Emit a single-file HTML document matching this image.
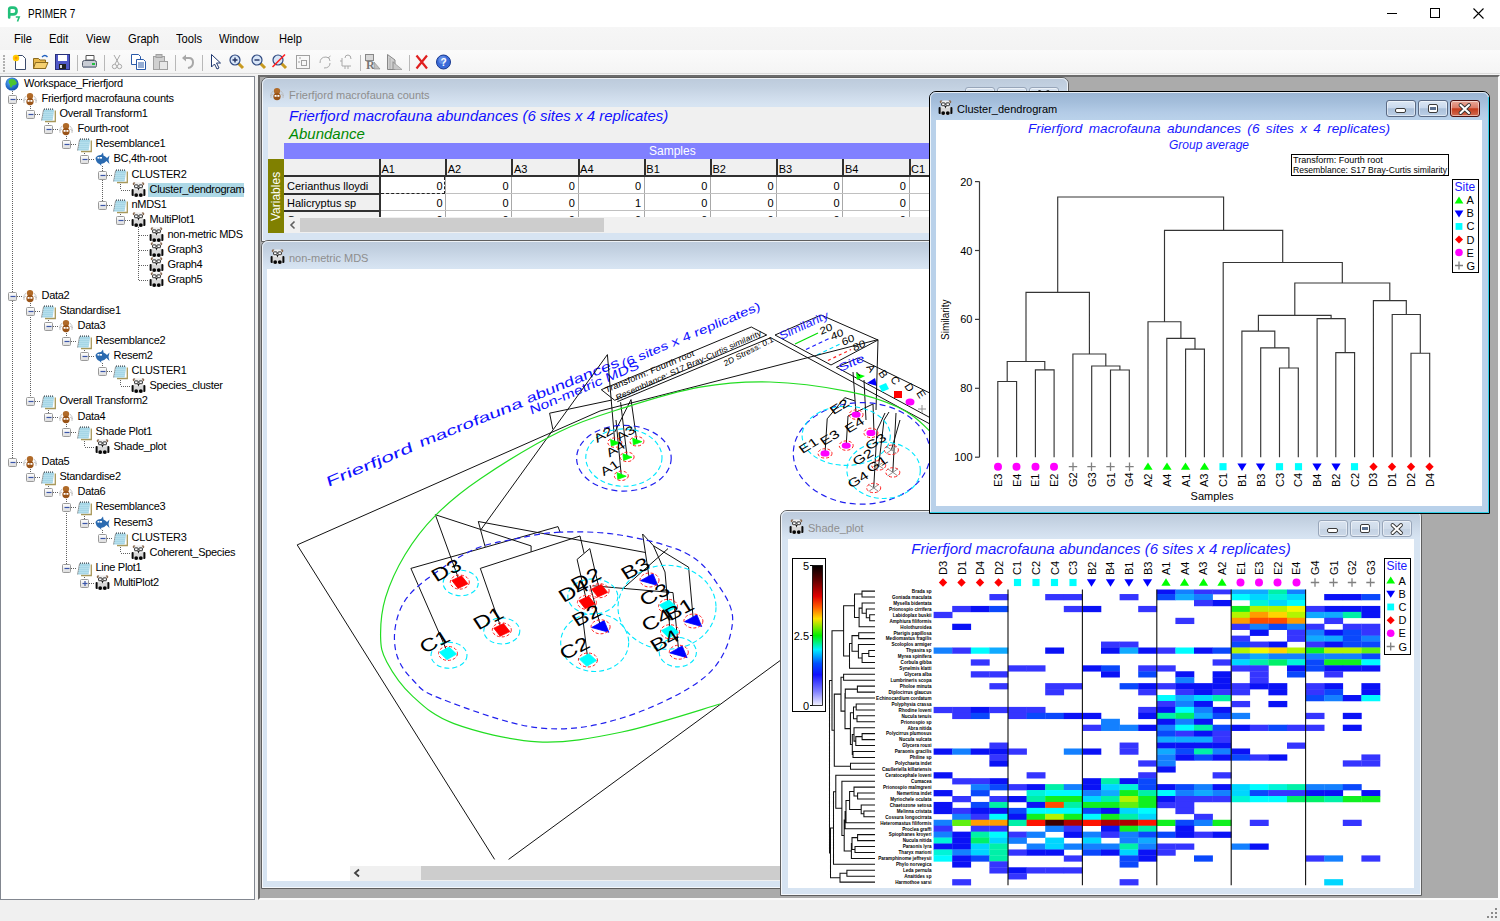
<!DOCTYPE html><html><head><meta charset="utf-8"><title>PRIMER 7</title><style>

*{box-sizing:border-box;margin:0;padding:0}
body{width:1500px;height:921px;overflow:hidden;background:#f0f0f0;font-family:"Liberation Sans",Arial,sans-serif;position:relative}
.a{position:absolute}
.ui{font-family:"Liberation Sans",Arial,sans-serif;font-size:12px;color:#000;white-space:nowrap}
.tr{font-family:"Liberation Sans",Arial,sans-serif;font-size:11px;letter-spacing:-0.3px;color:#000;white-space:nowrap;position:absolute;line-height:13px}
svg{position:absolute;overflow:visible}
.wt{font-family:"Liberation Sans",Arial,sans-serif;font-size:12px;white-space:nowrap;position:absolute}

</style></head><body>
<div class="a" style="left:0;top:0;width:1500px;height:27px;background:#fff"></div>
<svg class="a" style="left:7px;top:6px" width="14" height="16" viewBox="0 0 14 16"><path d="M2.2 11.5 V3.2 Q2.2 1.6 4 1.6 H6.2 Q9.6 1.6 9.6 5 Q9.6 8.4 6.2 8.4 H3" fill="none" stroke="#22c07a" stroke-width="2.6" stroke-linecap="round"/><path d="M8.8 11 H12.2 L10.5 15.5" fill="none" stroke="#22c07a" stroke-width="1.6"/></svg>
<div class="a ui" style="left:27.5px;top:7px;font-size:12.5px;line-height:15px;transform:scaleX(0.8);transform-origin:0 0">PRIMER 7</div>
<div class="a" style="left:1387px;top:13px;width:10px;height:1px;background:#000"></div>
<div class="a" style="left:1430px;top:8px;width:10px;height:10px;border:1px solid #000"></div>
<svg class="a" style="left:1473px;top:8px" width="11" height="11"><path d="M0.5 0.5L10.5 10.5M10.5 0.5L0.5 10.5" stroke="#000" stroke-width="1.1"/></svg>
<div class="a" style="left:0;top:27px;width:1500px;height:23px;background:linear-gradient(#f6f6f6,#f3f3f3)"></div>
<div class="a ui" style="left:14px;top:32px;line-height:15px;transform:scaleX(0.93);transform-origin:0 0">File</div>
<div class="a ui" style="left:49px;top:32px;line-height:15px;transform:scaleX(0.93);transform-origin:0 0">Edit</div>
<div class="a ui" style="left:86px;top:32px;line-height:15px;transform:scaleX(0.93);transform-origin:0 0">View</div>
<div class="a ui" style="left:128px;top:32px;line-height:15px;transform:scaleX(0.93);transform-origin:0 0">Graph</div>
<div class="a ui" style="left:176px;top:32px;line-height:15px;transform:scaleX(0.93);transform-origin:0 0">Tools</div>
<div class="a ui" style="left:219px;top:32px;line-height:15px;transform:scaleX(0.93);transform-origin:0 0">Window</div>
<div class="a ui" style="left:279px;top:32px;line-height:15px;transform:scaleX(0.93);transform-origin:0 0">Help</div>
<div class="a" style="left:0;top:50px;width:1500px;height:25px;background:linear-gradient(#fbfbfb,#f4f4f4)"></div>
<div class="a" style="left:0;top:73px;width:1500px;height:1px;background:#dcdcdc"></div>
<div class="a" style="left:3px;top:55px;width:2px;height:2px;background:#b0b0b0"></div>
<div class="a" style="left:3px;top:58px;width:2px;height:2px;background:#b0b0b0"></div>
<div class="a" style="left:3px;top:61px;width:2px;height:2px;background:#b0b0b0"></div>
<div class="a" style="left:3px;top:64px;width:2px;height:2px;background:#b0b0b0"></div>
<div class="a" style="left:3px;top:67px;width:2px;height:2px;background:#b0b0b0"></div>
<div class="a" style="left:3px;top:70px;width:2px;height:2px;background:#b0b0b0"></div>
<div class="a" style="left:77px;top:55px;width:1px;height:16px;background:#b8b8b8"></div>
<div class="a" style="left:104px;top:55px;width:1px;height:16px;background:#b8b8b8"></div>
<div class="a" style="left:175px;top:55px;width:1px;height:16px;background:#b8b8b8"></div>
<div class="a" style="left:202px;top:55px;width:1px;height:16px;background:#b8b8b8"></div>
<div class="a" style="left:360px;top:55px;width:1px;height:16px;background:#b8b8b8"></div>
<div class="a" style="left:409px;top:55px;width:1px;height:16px;background:#b8b8b8"></div>
<svg class="a" style="left:0;top:0" width="470" height="75"><g transform="translate(12,54)"><path d="M3.5 1.5H10.5L13.5 4.5V15.5H3.5Z" fill="#fff" stroke="#3a4a6a"/><circle cx="4" cy="4" r="3.2" fill="#ffcc00"/><circle cx="4" cy="4" r="1.5" fill="#ff9900"/></g><g transform="translate(33,54)"><path d="M0.5 4.5H5.5L7 6H12.5V14.5H0.5Z" fill="#e8b84a" stroke="#8a6a20"/><path d="M2.5 8.5H15L12.5 14.5H0.5Z" fill="#f5d070" stroke="#8a6a20"/><path d="M9 3Q12 0 14.5 3" fill="none" stroke="#2060c0" stroke-width="1.3"/></g><g transform="translate(55,54)"><rect x="0.5" y="0.5" width="14" height="15" fill="#5058c8" stroke="#28307a"/><rect x="3" y="1" width="9" height="6" fill="#fff"/><rect x="4" y="10" width="7" height="5" fill="#222"/><rect x="5" y="11" width="2" height="3" fill="#ddd"/></g><g transform="translate(82,54)"><path d="M4 1.5H12V6H4Z" fill="#fff" stroke="#555"/><rect x="0.5" y="6.5" width="14" height="7" rx="2" fill="#c8ccd4" stroke="#505868"/><rect x="10" y="9" width="3" height="2" fill="#20c040"/><rect x="2" y="12" width="11" height="2" fill="#8890a0"/></g><g transform="translate(112,54)" stroke="#a8a8a8" fill="none"><path d="M2 1L7 10M8 1L3 10"/><circle cx="2.5" cy="12.5" r="2.2"/><circle cx="7.5" cy="12.5" r="2.2"/></g><g transform="translate(131,54)"><path d="M0.5 0.5H7.5L9.5 2.5V10.5H0.5Z" fill="#fff" stroke="#2a5aa8"/><path d="M5.5 5.5H12.5L14.5 7.5V15.5H5.5Z" fill="#fff" stroke="#2a5aa8"/><path d="M7 9H13M7 11H13M7 13H13" stroke="#2a5aa8"/></g><g transform="translate(153,54)"><rect x="0.5" y="2.5" width="11" height="13" fill="#d0d0d0" stroke="#a0a0a0"/><rect x="3" y="0.5" width="6" height="3" fill="#c0c0c0" stroke="#a0a0a0"/><rect x="6.5" y="7.5" width="8" height="8" fill="#e8e8e8" stroke="#a0a0a0"/></g><g transform="translate(181,54)"><path d="M3 4H8Q12 4 12 8.5Q12 13 7 14" fill="none" stroke="#a8a8a8" stroke-width="2"/><path d="M1 4L5 0.5V7.5Z" fill="#a8a8a8"/></g><g transform="translate(210,54)"><path d="M1.5 0.5V13L4.5 10L7 15L9 14L6.5 9H10.5Z" fill="#fff" stroke="#203870"/></g><g transform="translate(229,54)"><path d="M9 9L14 14" stroke="#c89a20" stroke-width="3"/><circle cx="6" cy="6" r="5" fill="#d8e6f8" stroke="#304a80" stroke-width="1.2"/><path d="M3.5 6H8.5M6 3.5V8.5" stroke="#203060" stroke-width="1.4"/></g><g transform="translate(251,54)"><path d="M9 9L14 14" stroke="#c89a20" stroke-width="3"/><circle cx="6" cy="6" r="5" fill="#d8e6f8" stroke="#304a80" stroke-width="1.2"/><path d="M3.5 6H8.5" stroke="#203060" stroke-width="1.4"/></g><g transform="translate(272,54)"><path d="M9 9L14 14" stroke="#c89a20" stroke-width="3"/><circle cx="6" cy="6" r="5" fill="#d8e6f8" stroke="#304a80" stroke-width="1.2"/><path d="M0.5 13L13 0.5" stroke="#ff2020" stroke-width="1.6"/></g><g transform="translate(296,55)" stroke="#a0a0a0" fill="none"><rect x="0.5" y="0.5" width="13" height="13"/><rect x="5.5" y="5.5" width="5" height="5"/><path d="M3 3H5M3 6V8"/></g><g transform="translate(318,55)" stroke="#a8a8a8" fill="none"><path d="M2 8Q2 2 8 2Q12 2 12 6M12 8Q12 13 6 13"/><path d="M10 3L12.5 1"/></g><g transform="translate(340,55)" stroke="#a8a8a8" fill="none"><path d="M2 3V11H11"/><path d="M5 11V14M8 11V14M2 6H0M5 3Q5 0 8 0Q11 0 11 4"/></g><g transform="translate(365,54)"><rect x="0.5" y="0.5" width="8" height="6" fill="#d8d8d8" stroke="#888"/><text x="1" y="15" font-family="Liberation Serif" font-size="12" font-weight="bold" fill="#777">R</text><path d="M9 8L15 15H9Z" fill="#c0c0c0" stroke="#888" stroke-width="0.6"/></g><g transform="translate(387,54)"><path d="M0.5 0.5L8 6V15.5H0.5Z" fill="#d0d0d0" stroke="#888"/><path d="M6 8L15 15.5H6Z" fill="#c8c8c8" stroke="#888" stroke-width="0.6"/><path d="M3 4V15M6 7V15" stroke="#999" stroke-width="0.6"/></g><g transform="translate(415,54)"><path d="M1.5 1.5L12 14.5M12 1.5L1.5 14.5" stroke="#e02020" stroke-width="2.2"/></g><g transform="translate(436,54)"><circle cx="7.5" cy="8" r="7" fill="#3a6ad8" stroke="#1a3a90"/><circle cx="6.5" cy="6" r="4" fill="#7aa2ee" opacity="0.6"/><text x="7.5" y="12" text-anchor="middle" font-family="Liberation Sans" font-weight="bold" font-size="10" fill="#fff">?</text></g></svg>
<div class="a" style="left:0;top:76px;width:255px;height:824px;background:#fff;border:1px solid #828790"></div>
<svg class="a" style="left:0;top:0" width="256" height="900"><defs><linearGradient id="exg" x1="0" y1="0" x2="0" y2="1"><stop offset="0" stop-color="#fff"/><stop offset="1" stop-color="#dcdcdc"/></linearGradient></defs><path d="M12.5 91V462" stroke="#606060" stroke-width="1" stroke-dasharray="1 1"/><path d="M30.5 106V114" stroke="#606060" stroke-width="1" stroke-dasharray="1 1"/><path d="M48.5 121V129" stroke="#606060" stroke-width="1" stroke-dasharray="1 1"/><path d="M66.5 136V144" stroke="#606060" stroke-width="1" stroke-dasharray="1 1"/><path d="M84.5 151V159" stroke="#606060" stroke-width="1" stroke-dasharray="1 1"/><path d="M102.5 166V205" stroke="#606060" stroke-width="1" stroke-dasharray="1 1"/><path d="M120.5 182V190" stroke="#606060" stroke-width="1" stroke-dasharray="1 1"/><path d="M120.5 212V220" stroke="#606060" stroke-width="1" stroke-dasharray="1 1"/><path d="M138.5 227V280" stroke="#606060" stroke-width="1" stroke-dasharray="1 1"/><path d="M30.5 303V401" stroke="#606060" stroke-width="1" stroke-dasharray="1 1"/><path d="M48.5 318V326" stroke="#606060" stroke-width="1" stroke-dasharray="1 1"/><path d="M66.5 333V341" stroke="#606060" stroke-width="1" stroke-dasharray="1 1"/><path d="M84.5 348V356" stroke="#606060" stroke-width="1" stroke-dasharray="1 1"/><path d="M102.5 363V371" stroke="#606060" stroke-width="1" stroke-dasharray="1 1"/><path d="M120.5 378V386" stroke="#606060" stroke-width="1" stroke-dasharray="1 1"/><path d="M48.5 408V417" stroke="#606060" stroke-width="1" stroke-dasharray="1 1"/><path d="M66.5 424V432" stroke="#606060" stroke-width="1" stroke-dasharray="1 1"/><path d="M84.5 439V447" stroke="#606060" stroke-width="1" stroke-dasharray="1 1"/><path d="M30.5 469V477" stroke="#606060" stroke-width="1" stroke-dasharray="1 1"/><path d="M48.5 484V492" stroke="#606060" stroke-width="1" stroke-dasharray="1 1"/><path d="M66.5 499V568" stroke="#606060" stroke-width="1" stroke-dasharray="1 1"/><path d="M84.5 514V523" stroke="#606060" stroke-width="1" stroke-dasharray="1 1"/><path d="M102.5 530V538" stroke="#606060" stroke-width="1" stroke-dasharray="1 1"/><path d="M120.5 545V553" stroke="#606060" stroke-width="1" stroke-dasharray="1 1"/><path d="M84.5 575V583" stroke="#606060" stroke-width="1" stroke-dasharray="1 1"/><g transform="translate(5,77)"><defs><radialGradient id="gg" cx="0.4" cy="0.35" r="0.7"><stop offset="0" stop-color="#5ab0ff"/><stop offset="1" stop-color="#0a4aa8"/></radialGradient></defs><circle cx="7" cy="7" r="6.6" fill="url(#gg)"/><path d="M4 3Q7 1 10 3L12 6Q10 9 8 8L6 11Q4 9 5 7Q3 6 4 3Z" fill="#4cc430"/></g><path d="M17 99.5H23" stroke="#606060" stroke-width="1" stroke-dasharray="1 1"/><rect x="8.5" y="95.5" width="8" height="8" rx="1" fill="url(#exg)" stroke="#9a9a9a"/><path d="M10.5 99.5H15.5" stroke="#3a55a8" stroke-width="1.2"/><g transform="translate(23,92)"><path d="M3 4Q0 6 1 11M11 4Q14 6 13 11M3 7L0 9M11 7L14 9" stroke="#b8b8b8" stroke-width="0.8" fill="none"/><ellipse cx="7" cy="4" rx="3.2" ry="3" fill="#b06a28"/><ellipse cx="7" cy="9.5" rx="3.6" ry="3.8" fill="#9a5418"/><rect x="4.6" y="8" width="2" height="1.8" fill="#fff"/><rect x="7.4" y="8" width="2" height="1.8" fill="#fff"/></g><path d="M35 114.5H41" stroke="#606060" stroke-width="1" stroke-dasharray="1 1"/><rect x="26.5" y="110.5" width="8" height="8" rx="1" fill="url(#exg)" stroke="#9a9a9a"/><path d="M28.5 114.5H33.5" stroke="#3a55a8" stroke-width="1.2"/><g transform="translate(41,107)"><path d="M4 14.5H14.3V3.5" fill="none" stroke="#a8985a" stroke-width="1.3"/><path d="M2.6 2.5H13.2L11.6 13.5H0.6Z" fill="#a6d6e6"/><path d="M2.6 2.5L0.6 13.5" stroke="#8a8a8a" stroke-width="0.9"/><path d="M1.8 5.5H12.4M1.5 7.5H12.1M1.2 9.5H11.8M0.9 11.5H11.6" stroke="#c4e8f4" stroke-width="0.5"/><path d="M3 2.2H13" stroke="#30404a" stroke-width="1.3" stroke-dasharray="1 1"/></g><path d="M53 129.5H59" stroke="#606060" stroke-width="1" stroke-dasharray="1 1"/><rect x="44.5" y="125.5" width="8" height="8" rx="1" fill="url(#exg)" stroke="#9a9a9a"/><path d="M46.5 129.5H51.5" stroke="#3a55a8" stroke-width="1.2"/><g transform="translate(59,122)"><path d="M3 4Q0 6 1 11M11 4Q14 6 13 11M3 7L0 9M11 7L14 9" stroke="#b8b8b8" stroke-width="0.8" fill="none"/><ellipse cx="7" cy="4" rx="3.2" ry="3" fill="#b06a28"/><ellipse cx="7" cy="9.5" rx="3.6" ry="3.8" fill="#9a5418"/><rect x="4.6" y="8" width="2" height="1.8" fill="#fff"/><rect x="7.4" y="8" width="2" height="1.8" fill="#fff"/></g><path d="M71 144.5H77" stroke="#606060" stroke-width="1" stroke-dasharray="1 1"/><rect x="62.5" y="140.5" width="8" height="8" rx="1" fill="url(#exg)" stroke="#9a9a9a"/><path d="M64.5 144.5H69.5" stroke="#3a55a8" stroke-width="1.2"/><g transform="translate(77,137)"><path d="M4 14.5H14.3V3.5" fill="none" stroke="#a8985a" stroke-width="1.3"/><path d="M2.6 2.5H13.2L11.6 13.5H0.6Z" fill="#a6d6e6"/><path d="M2.6 2.5L0.6 13.5" stroke="#8a8a8a" stroke-width="0.9"/><path d="M1.8 5.5H12.4M1.5 7.5H12.1M1.2 9.5H11.8M0.9 11.5H11.6" stroke="#c4e8f4" stroke-width="0.5"/><path d="M3 2.2H13" stroke="#30404a" stroke-width="1.3" stroke-dasharray="1 1"/></g><path d="M89 159.5H95" stroke="#606060" stroke-width="1" stroke-dasharray="1 1"/><rect x="80.5" y="155.5" width="8" height="8" rx="1" fill="url(#exg)" stroke="#9a9a9a"/><path d="M82.5 159.5H87.5" stroke="#3a55a8" stroke-width="1.2"/><g transform="translate(95,152)"><path d="M0.5 6Q2 3 6 3L8 0.5L8.5 3.5Q11 4.5 12 6L14.5 3.5L13.5 8L14.5 12L11.5 9Q9 12 6 12L6.5 14L4.5 12Q1 11 0.5 6Z" fill="#2a6ab0"/><rect x="2.5" y="5" width="2" height="1.6" fill="#fff"/><rect x="5" y="5" width="2" height="1.6" fill="#fff"/></g><path d="M107 175.5H113" stroke="#606060" stroke-width="1" stroke-dasharray="1 1"/><rect x="98.5" y="171.5" width="8" height="8" rx="1" fill="url(#exg)" stroke="#9a9a9a"/><path d="M100.5 175.5H105.5" stroke="#3a55a8" stroke-width="1.2"/><g transform="translate(113,168)"><path d="M4 14.5H14.3V3.5" fill="none" stroke="#a8985a" stroke-width="1.3"/><path d="M2.6 2.5H13.2L11.6 13.5H0.6Z" fill="#a6d6e6"/><path d="M2.6 2.5L0.6 13.5" stroke="#8a8a8a" stroke-width="0.9"/><path d="M1.8 5.5H12.4M1.5 7.5H12.1M1.2 9.5H11.8M0.9 11.5H11.6" stroke="#c4e8f4" stroke-width="0.5"/><path d="M3 2.2H13" stroke="#30404a" stroke-width="1.3" stroke-dasharray="1 1"/></g><path d="M121 190.5H131" stroke="#606060" stroke-width="1" stroke-dasharray="1 1"/><g transform="translate(131,181.5)"><rect x="0.6" y="7.5" width="2.4" height="7" rx="1.1" fill="#0a0a0a"/><rect x="12" y="7.5" width="2.4" height="7" rx="1.1" fill="#0a0a0a"/><rect x="2.6" y="6" width="9.8" height="9.5" rx="2" fill="#d8d8d8"/><circle cx="5.2" cy="13.6" r="1.9" fill="#050505"/><circle cx="9.8" cy="13.6" r="1.9" fill="#050505"/><circle cx="3.2" cy="2.3" r="1.5" fill="#8a6a50"/><circle cx="11.8" cy="2.3" r="1.5" fill="#8a6a50"/><rect x="3.2" y="1" width="8.6" height="7.5" rx="2.5" fill="#eeeeee"/><rect x="3.6" y="3.4" width="3.4" height="2.8" rx="0.6" fill="#fff" stroke="#151515" stroke-width="0.9"/><rect x="8" y="3.4" width="3.4" height="2.8" rx="0.6" fill="#fff" stroke="#151515" stroke-width="0.9"/><path d="M6.4 6.6H8.6L7.5 9Z" fill="#111"/></g><path d="M107 205.5H113" stroke="#606060" stroke-width="1" stroke-dasharray="1 1"/><rect x="98.5" y="201.5" width="8" height="8" rx="1" fill="url(#exg)" stroke="#9a9a9a"/><path d="M100.5 205.5H105.5" stroke="#3a55a8" stroke-width="1.2"/><g transform="translate(113,198)"><path d="M4 14.5H14.3V3.5" fill="none" stroke="#a8985a" stroke-width="1.3"/><path d="M2.6 2.5H13.2L11.6 13.5H0.6Z" fill="#a6d6e6"/><path d="M2.6 2.5L0.6 13.5" stroke="#8a8a8a" stroke-width="0.9"/><path d="M1.8 5.5H12.4M1.5 7.5H12.1M1.2 9.5H11.8M0.9 11.5H11.6" stroke="#c4e8f4" stroke-width="0.5"/><path d="M3 2.2H13" stroke="#30404a" stroke-width="1.3" stroke-dasharray="1 1"/></g><path d="M125 220.5H131" stroke="#606060" stroke-width="1" stroke-dasharray="1 1"/><rect x="116.5" y="216.5" width="8" height="8" rx="1" fill="url(#exg)" stroke="#9a9a9a"/><path d="M118.5 220.5H123.5" stroke="#3a55a8" stroke-width="1.2"/><g transform="translate(131,211.5)"><rect x="0.6" y="7.5" width="2.4" height="7" rx="1.1" fill="#0a0a0a"/><rect x="12" y="7.5" width="2.4" height="7" rx="1.1" fill="#0a0a0a"/><rect x="2.6" y="6" width="9.8" height="9.5" rx="2" fill="#d8d8d8"/><circle cx="5.2" cy="13.6" r="1.9" fill="#050505"/><circle cx="9.8" cy="13.6" r="1.9" fill="#050505"/><circle cx="3.2" cy="2.3" r="1.5" fill="#8a6a50"/><circle cx="11.8" cy="2.3" r="1.5" fill="#8a6a50"/><rect x="3.2" y="1" width="8.6" height="7.5" rx="2.5" fill="#eeeeee"/><rect x="3.6" y="3.4" width="3.4" height="2.8" rx="0.6" fill="#fff" stroke="#151515" stroke-width="0.9"/><rect x="8" y="3.4" width="3.4" height="2.8" rx="0.6" fill="#fff" stroke="#151515" stroke-width="0.9"/><path d="M6.4 6.6H8.6L7.5 9Z" fill="#111"/></g><path d="M139 235.5H149" stroke="#606060" stroke-width="1" stroke-dasharray="1 1"/><g transform="translate(149,226.5)"><rect x="0.6" y="7.5" width="2.4" height="7" rx="1.1" fill="#0a0a0a"/><rect x="12" y="7.5" width="2.4" height="7" rx="1.1" fill="#0a0a0a"/><rect x="2.6" y="6" width="9.8" height="9.5" rx="2" fill="#d8d8d8"/><circle cx="5.2" cy="13.6" r="1.9" fill="#050505"/><circle cx="9.8" cy="13.6" r="1.9" fill="#050505"/><circle cx="3.2" cy="2.3" r="1.5" fill="#8a6a50"/><circle cx="11.8" cy="2.3" r="1.5" fill="#8a6a50"/><rect x="3.2" y="1" width="8.6" height="7.5" rx="2.5" fill="#eeeeee"/><rect x="3.6" y="3.4" width="3.4" height="2.8" rx="0.6" fill="#fff" stroke="#151515" stroke-width="0.9"/><rect x="8" y="3.4" width="3.4" height="2.8" rx="0.6" fill="#fff" stroke="#151515" stroke-width="0.9"/><path d="M6.4 6.6H8.6L7.5 9Z" fill="#111"/></g><path d="M139 250.5H149" stroke="#606060" stroke-width="1" stroke-dasharray="1 1"/><g transform="translate(149,241.5)"><rect x="0.6" y="7.5" width="2.4" height="7" rx="1.1" fill="#0a0a0a"/><rect x="12" y="7.5" width="2.4" height="7" rx="1.1" fill="#0a0a0a"/><rect x="2.6" y="6" width="9.8" height="9.5" rx="2" fill="#d8d8d8"/><circle cx="5.2" cy="13.6" r="1.9" fill="#050505"/><circle cx="9.8" cy="13.6" r="1.9" fill="#050505"/><circle cx="3.2" cy="2.3" r="1.5" fill="#8a6a50"/><circle cx="11.8" cy="2.3" r="1.5" fill="#8a6a50"/><rect x="3.2" y="1" width="8.6" height="7.5" rx="2.5" fill="#eeeeee"/><rect x="3.6" y="3.4" width="3.4" height="2.8" rx="0.6" fill="#fff" stroke="#151515" stroke-width="0.9"/><rect x="8" y="3.4" width="3.4" height="2.8" rx="0.6" fill="#fff" stroke="#151515" stroke-width="0.9"/><path d="M6.4 6.6H8.6L7.5 9Z" fill="#111"/></g><path d="M139 265.5H149" stroke="#606060" stroke-width="1" stroke-dasharray="1 1"/><g transform="translate(149,256.5)"><rect x="0.6" y="7.5" width="2.4" height="7" rx="1.1" fill="#0a0a0a"/><rect x="12" y="7.5" width="2.4" height="7" rx="1.1" fill="#0a0a0a"/><rect x="2.6" y="6" width="9.8" height="9.5" rx="2" fill="#d8d8d8"/><circle cx="5.2" cy="13.6" r="1.9" fill="#050505"/><circle cx="9.8" cy="13.6" r="1.9" fill="#050505"/><circle cx="3.2" cy="2.3" r="1.5" fill="#8a6a50"/><circle cx="11.8" cy="2.3" r="1.5" fill="#8a6a50"/><rect x="3.2" y="1" width="8.6" height="7.5" rx="2.5" fill="#eeeeee"/><rect x="3.6" y="3.4" width="3.4" height="2.8" rx="0.6" fill="#fff" stroke="#151515" stroke-width="0.9"/><rect x="8" y="3.4" width="3.4" height="2.8" rx="0.6" fill="#fff" stroke="#151515" stroke-width="0.9"/><path d="M6.4 6.6H8.6L7.5 9Z" fill="#111"/></g><path d="M139 280.5H149" stroke="#606060" stroke-width="1" stroke-dasharray="1 1"/><g transform="translate(149,271.5)"><rect x="0.6" y="7.5" width="2.4" height="7" rx="1.1" fill="#0a0a0a"/><rect x="12" y="7.5" width="2.4" height="7" rx="1.1" fill="#0a0a0a"/><rect x="2.6" y="6" width="9.8" height="9.5" rx="2" fill="#d8d8d8"/><circle cx="5.2" cy="13.6" r="1.9" fill="#050505"/><circle cx="9.8" cy="13.6" r="1.9" fill="#050505"/><circle cx="3.2" cy="2.3" r="1.5" fill="#8a6a50"/><circle cx="11.8" cy="2.3" r="1.5" fill="#8a6a50"/><rect x="3.2" y="1" width="8.6" height="7.5" rx="2.5" fill="#eeeeee"/><rect x="3.6" y="3.4" width="3.4" height="2.8" rx="0.6" fill="#fff" stroke="#151515" stroke-width="0.9"/><rect x="8" y="3.4" width="3.4" height="2.8" rx="0.6" fill="#fff" stroke="#151515" stroke-width="0.9"/><path d="M6.4 6.6H8.6L7.5 9Z" fill="#111"/></g><path d="M17 296.5H23" stroke="#606060" stroke-width="1" stroke-dasharray="1 1"/><rect x="8.5" y="292.5" width="8" height="8" rx="1" fill="url(#exg)" stroke="#9a9a9a"/><path d="M10.5 296.5H15.5" stroke="#3a55a8" stroke-width="1.2"/><g transform="translate(23,289)"><path d="M3 4Q0 6 1 11M11 4Q14 6 13 11M3 7L0 9M11 7L14 9" stroke="#b8b8b8" stroke-width="0.8" fill="none"/><ellipse cx="7" cy="4" rx="3.2" ry="3" fill="#b06a28"/><ellipse cx="7" cy="9.5" rx="3.6" ry="3.8" fill="#9a5418"/><rect x="4.6" y="8" width="2" height="1.8" fill="#fff"/><rect x="7.4" y="8" width="2" height="1.8" fill="#fff"/></g><path d="M35 311.5H41" stroke="#606060" stroke-width="1" stroke-dasharray="1 1"/><rect x="26.5" y="307.5" width="8" height="8" rx="1" fill="url(#exg)" stroke="#9a9a9a"/><path d="M28.5 311.5H33.5" stroke="#3a55a8" stroke-width="1.2"/><g transform="translate(41,304)"><path d="M4 14.5H14.3V3.5" fill="none" stroke="#a8985a" stroke-width="1.3"/><path d="M2.6 2.5H13.2L11.6 13.5H0.6Z" fill="#a6d6e6"/><path d="M2.6 2.5L0.6 13.5" stroke="#8a8a8a" stroke-width="0.9"/><path d="M1.8 5.5H12.4M1.5 7.5H12.1M1.2 9.5H11.8M0.9 11.5H11.6" stroke="#c4e8f4" stroke-width="0.5"/><path d="M3 2.2H13" stroke="#30404a" stroke-width="1.3" stroke-dasharray="1 1"/></g><path d="M53 326.5H59" stroke="#606060" stroke-width="1" stroke-dasharray="1 1"/><rect x="44.5" y="322.5" width="8" height="8" rx="1" fill="url(#exg)" stroke="#9a9a9a"/><path d="M46.5 326.5H51.5" stroke="#3a55a8" stroke-width="1.2"/><g transform="translate(59,319)"><path d="M3 4Q0 6 1 11M11 4Q14 6 13 11M3 7L0 9M11 7L14 9" stroke="#b8b8b8" stroke-width="0.8" fill="none"/><ellipse cx="7" cy="4" rx="3.2" ry="3" fill="#b06a28"/><ellipse cx="7" cy="9.5" rx="3.6" ry="3.8" fill="#9a5418"/><rect x="4.6" y="8" width="2" height="1.8" fill="#fff"/><rect x="7.4" y="8" width="2" height="1.8" fill="#fff"/></g><path d="M71 341.5H77" stroke="#606060" stroke-width="1" stroke-dasharray="1 1"/><rect x="62.5" y="337.5" width="8" height="8" rx="1" fill="url(#exg)" stroke="#9a9a9a"/><path d="M64.5 341.5H69.5" stroke="#3a55a8" stroke-width="1.2"/><g transform="translate(77,334)"><path d="M4 14.5H14.3V3.5" fill="none" stroke="#a8985a" stroke-width="1.3"/><path d="M2.6 2.5H13.2L11.6 13.5H0.6Z" fill="#a6d6e6"/><path d="M2.6 2.5L0.6 13.5" stroke="#8a8a8a" stroke-width="0.9"/><path d="M1.8 5.5H12.4M1.5 7.5H12.1M1.2 9.5H11.8M0.9 11.5H11.6" stroke="#c4e8f4" stroke-width="0.5"/><path d="M3 2.2H13" stroke="#30404a" stroke-width="1.3" stroke-dasharray="1 1"/></g><path d="M89 356.5H95" stroke="#606060" stroke-width="1" stroke-dasharray="1 1"/><rect x="80.5" y="352.5" width="8" height="8" rx="1" fill="url(#exg)" stroke="#9a9a9a"/><path d="M82.5 356.5H87.5" stroke="#3a55a8" stroke-width="1.2"/><g transform="translate(95,349)"><path d="M0.5 6Q2 3 6 3L8 0.5L8.5 3.5Q11 4.5 12 6L14.5 3.5L13.5 8L14.5 12L11.5 9Q9 12 6 12L6.5 14L4.5 12Q1 11 0.5 6Z" fill="#2a6ab0"/><rect x="2.5" y="5" width="2" height="1.6" fill="#fff"/><rect x="5" y="5" width="2" height="1.6" fill="#fff"/></g><path d="M107 371.5H113" stroke="#606060" stroke-width="1" stroke-dasharray="1 1"/><rect x="98.5" y="367.5" width="8" height="8" rx="1" fill="url(#exg)" stroke="#9a9a9a"/><path d="M100.5 371.5H105.5" stroke="#3a55a8" stroke-width="1.2"/><g transform="translate(113,364)"><path d="M4 14.5H14.3V3.5" fill="none" stroke="#a8985a" stroke-width="1.3"/><path d="M2.6 2.5H13.2L11.6 13.5H0.6Z" fill="#a6d6e6"/><path d="M2.6 2.5L0.6 13.5" stroke="#8a8a8a" stroke-width="0.9"/><path d="M1.8 5.5H12.4M1.5 7.5H12.1M1.2 9.5H11.8M0.9 11.5H11.6" stroke="#c4e8f4" stroke-width="0.5"/><path d="M3 2.2H13" stroke="#30404a" stroke-width="1.3" stroke-dasharray="1 1"/></g><path d="M121 386.5H131" stroke="#606060" stroke-width="1" stroke-dasharray="1 1"/><g transform="translate(131,377.5)"><rect x="0.6" y="7.5" width="2.4" height="7" rx="1.1" fill="#0a0a0a"/><rect x="12" y="7.5" width="2.4" height="7" rx="1.1" fill="#0a0a0a"/><rect x="2.6" y="6" width="9.8" height="9.5" rx="2" fill="#d8d8d8"/><circle cx="5.2" cy="13.6" r="1.9" fill="#050505"/><circle cx="9.8" cy="13.6" r="1.9" fill="#050505"/><circle cx="3.2" cy="2.3" r="1.5" fill="#8a6a50"/><circle cx="11.8" cy="2.3" r="1.5" fill="#8a6a50"/><rect x="3.2" y="1" width="8.6" height="7.5" rx="2.5" fill="#eeeeee"/><rect x="3.6" y="3.4" width="3.4" height="2.8" rx="0.6" fill="#fff" stroke="#151515" stroke-width="0.9"/><rect x="8" y="3.4" width="3.4" height="2.8" rx="0.6" fill="#fff" stroke="#151515" stroke-width="0.9"/><path d="M6.4 6.6H8.6L7.5 9Z" fill="#111"/></g><path d="M35 401.5H41" stroke="#606060" stroke-width="1" stroke-dasharray="1 1"/><rect x="26.5" y="397.5" width="8" height="8" rx="1" fill="url(#exg)" stroke="#9a9a9a"/><path d="M28.5 401.5H33.5" stroke="#3a55a8" stroke-width="1.2"/><g transform="translate(41,394)"><path d="M4 14.5H14.3V3.5" fill="none" stroke="#a8985a" stroke-width="1.3"/><path d="M2.6 2.5H13.2L11.6 13.5H0.6Z" fill="#a6d6e6"/><path d="M2.6 2.5L0.6 13.5" stroke="#8a8a8a" stroke-width="0.9"/><path d="M1.8 5.5H12.4M1.5 7.5H12.1M1.2 9.5H11.8M0.9 11.5H11.6" stroke="#c4e8f4" stroke-width="0.5"/><path d="M3 2.2H13" stroke="#30404a" stroke-width="1.3" stroke-dasharray="1 1"/></g><path d="M53 417.5H59" stroke="#606060" stroke-width="1" stroke-dasharray="1 1"/><rect x="44.5" y="413.5" width="8" height="8" rx="1" fill="url(#exg)" stroke="#9a9a9a"/><path d="M46.5 417.5H51.5" stroke="#3a55a8" stroke-width="1.2"/><g transform="translate(59,410)"><path d="M3 4Q0 6 1 11M11 4Q14 6 13 11M3 7L0 9M11 7L14 9" stroke="#b8b8b8" stroke-width="0.8" fill="none"/><ellipse cx="7" cy="4" rx="3.2" ry="3" fill="#b06a28"/><ellipse cx="7" cy="9.5" rx="3.6" ry="3.8" fill="#9a5418"/><rect x="4.6" y="8" width="2" height="1.8" fill="#fff"/><rect x="7.4" y="8" width="2" height="1.8" fill="#fff"/></g><path d="M71 432.5H77" stroke="#606060" stroke-width="1" stroke-dasharray="1 1"/><rect x="62.5" y="428.5" width="8" height="8" rx="1" fill="url(#exg)" stroke="#9a9a9a"/><path d="M64.5 432.5H69.5" stroke="#3a55a8" stroke-width="1.2"/><g transform="translate(77,425)"><path d="M4 14.5H14.3V3.5" fill="none" stroke="#a8985a" stroke-width="1.3"/><path d="M2.6 2.5H13.2L11.6 13.5H0.6Z" fill="#a6d6e6"/><path d="M2.6 2.5L0.6 13.5" stroke="#8a8a8a" stroke-width="0.9"/><path d="M1.8 5.5H12.4M1.5 7.5H12.1M1.2 9.5H11.8M0.9 11.5H11.6" stroke="#c4e8f4" stroke-width="0.5"/><path d="M3 2.2H13" stroke="#30404a" stroke-width="1.3" stroke-dasharray="1 1"/></g><path d="M85 447.5H95" stroke="#606060" stroke-width="1" stroke-dasharray="1 1"/><g transform="translate(95,438.5)"><rect x="0.6" y="7.5" width="2.4" height="7" rx="1.1" fill="#0a0a0a"/><rect x="12" y="7.5" width="2.4" height="7" rx="1.1" fill="#0a0a0a"/><rect x="2.6" y="6" width="9.8" height="9.5" rx="2" fill="#d8d8d8"/><circle cx="5.2" cy="13.6" r="1.9" fill="#050505"/><circle cx="9.8" cy="13.6" r="1.9" fill="#050505"/><circle cx="3.2" cy="2.3" r="1.5" fill="#8a6a50"/><circle cx="11.8" cy="2.3" r="1.5" fill="#8a6a50"/><rect x="3.2" y="1" width="8.6" height="7.5" rx="2.5" fill="#eeeeee"/><rect x="3.6" y="3.4" width="3.4" height="2.8" rx="0.6" fill="#fff" stroke="#151515" stroke-width="0.9"/><rect x="8" y="3.4" width="3.4" height="2.8" rx="0.6" fill="#fff" stroke="#151515" stroke-width="0.9"/><path d="M6.4 6.6H8.6L7.5 9Z" fill="#111"/></g><path d="M17 462.5H23" stroke="#606060" stroke-width="1" stroke-dasharray="1 1"/><rect x="8.5" y="458.5" width="8" height="8" rx="1" fill="url(#exg)" stroke="#9a9a9a"/><path d="M10.5 462.5H15.5" stroke="#3a55a8" stroke-width="1.2"/><g transform="translate(23,455)"><path d="M3 4Q0 6 1 11M11 4Q14 6 13 11M3 7L0 9M11 7L14 9" stroke="#b8b8b8" stroke-width="0.8" fill="none"/><ellipse cx="7" cy="4" rx="3.2" ry="3" fill="#b06a28"/><ellipse cx="7" cy="9.5" rx="3.6" ry="3.8" fill="#9a5418"/><rect x="4.6" y="8" width="2" height="1.8" fill="#fff"/><rect x="7.4" y="8" width="2" height="1.8" fill="#fff"/></g><path d="M35 477.5H41" stroke="#606060" stroke-width="1" stroke-dasharray="1 1"/><rect x="26.5" y="473.5" width="8" height="8" rx="1" fill="url(#exg)" stroke="#9a9a9a"/><path d="M28.5 477.5H33.5" stroke="#3a55a8" stroke-width="1.2"/><g transform="translate(41,470)"><path d="M4 14.5H14.3V3.5" fill="none" stroke="#a8985a" stroke-width="1.3"/><path d="M2.6 2.5H13.2L11.6 13.5H0.6Z" fill="#a6d6e6"/><path d="M2.6 2.5L0.6 13.5" stroke="#8a8a8a" stroke-width="0.9"/><path d="M1.8 5.5H12.4M1.5 7.5H12.1M1.2 9.5H11.8M0.9 11.5H11.6" stroke="#c4e8f4" stroke-width="0.5"/><path d="M3 2.2H13" stroke="#30404a" stroke-width="1.3" stroke-dasharray="1 1"/></g><path d="M53 492.5H59" stroke="#606060" stroke-width="1" stroke-dasharray="1 1"/><rect x="44.5" y="488.5" width="8" height="8" rx="1" fill="url(#exg)" stroke="#9a9a9a"/><path d="M46.5 492.5H51.5" stroke="#3a55a8" stroke-width="1.2"/><g transform="translate(59,485)"><path d="M3 4Q0 6 1 11M11 4Q14 6 13 11M3 7L0 9M11 7L14 9" stroke="#b8b8b8" stroke-width="0.8" fill="none"/><ellipse cx="7" cy="4" rx="3.2" ry="3" fill="#b06a28"/><ellipse cx="7" cy="9.5" rx="3.6" ry="3.8" fill="#9a5418"/><rect x="4.6" y="8" width="2" height="1.8" fill="#fff"/><rect x="7.4" y="8" width="2" height="1.8" fill="#fff"/></g><path d="M71 507.5H77" stroke="#606060" stroke-width="1" stroke-dasharray="1 1"/><rect x="62.5" y="503.5" width="8" height="8" rx="1" fill="url(#exg)" stroke="#9a9a9a"/><path d="M64.5 507.5H69.5" stroke="#3a55a8" stroke-width="1.2"/><g transform="translate(77,500)"><path d="M4 14.5H14.3V3.5" fill="none" stroke="#a8985a" stroke-width="1.3"/><path d="M2.6 2.5H13.2L11.6 13.5H0.6Z" fill="#a6d6e6"/><path d="M2.6 2.5L0.6 13.5" stroke="#8a8a8a" stroke-width="0.9"/><path d="M1.8 5.5H12.4M1.5 7.5H12.1M1.2 9.5H11.8M0.9 11.5H11.6" stroke="#c4e8f4" stroke-width="0.5"/><path d="M3 2.2H13" stroke="#30404a" stroke-width="1.3" stroke-dasharray="1 1"/></g><path d="M89 523.5H95" stroke="#606060" stroke-width="1" stroke-dasharray="1 1"/><rect x="80.5" y="519.5" width="8" height="8" rx="1" fill="url(#exg)" stroke="#9a9a9a"/><path d="M82.5 523.5H87.5" stroke="#3a55a8" stroke-width="1.2"/><g transform="translate(95,516)"><path d="M0.5 6Q2 3 6 3L8 0.5L8.5 3.5Q11 4.5 12 6L14.5 3.5L13.5 8L14.5 12L11.5 9Q9 12 6 12L6.5 14L4.5 12Q1 11 0.5 6Z" fill="#2a6ab0"/><rect x="2.5" y="5" width="2" height="1.6" fill="#fff"/><rect x="5" y="5" width="2" height="1.6" fill="#fff"/></g><path d="M107 538.5H113" stroke="#606060" stroke-width="1" stroke-dasharray="1 1"/><rect x="98.5" y="534.5" width="8" height="8" rx="1" fill="url(#exg)" stroke="#9a9a9a"/><path d="M100.5 538.5H105.5" stroke="#3a55a8" stroke-width="1.2"/><g transform="translate(113,531)"><path d="M4 14.5H14.3V3.5" fill="none" stroke="#a8985a" stroke-width="1.3"/><path d="M2.6 2.5H13.2L11.6 13.5H0.6Z" fill="#a6d6e6"/><path d="M2.6 2.5L0.6 13.5" stroke="#8a8a8a" stroke-width="0.9"/><path d="M1.8 5.5H12.4M1.5 7.5H12.1M1.2 9.5H11.8M0.9 11.5H11.6" stroke="#c4e8f4" stroke-width="0.5"/><path d="M3 2.2H13" stroke="#30404a" stroke-width="1.3" stroke-dasharray="1 1"/></g><path d="M121 553.5H131" stroke="#606060" stroke-width="1" stroke-dasharray="1 1"/><g transform="translate(131,544.5)"><rect x="0.6" y="7.5" width="2.4" height="7" rx="1.1" fill="#0a0a0a"/><rect x="12" y="7.5" width="2.4" height="7" rx="1.1" fill="#0a0a0a"/><rect x="2.6" y="6" width="9.8" height="9.5" rx="2" fill="#d8d8d8"/><circle cx="5.2" cy="13.6" r="1.9" fill="#050505"/><circle cx="9.8" cy="13.6" r="1.9" fill="#050505"/><circle cx="3.2" cy="2.3" r="1.5" fill="#8a6a50"/><circle cx="11.8" cy="2.3" r="1.5" fill="#8a6a50"/><rect x="3.2" y="1" width="8.6" height="7.5" rx="2.5" fill="#eeeeee"/><rect x="3.6" y="3.4" width="3.4" height="2.8" rx="0.6" fill="#fff" stroke="#151515" stroke-width="0.9"/><rect x="8" y="3.4" width="3.4" height="2.8" rx="0.6" fill="#fff" stroke="#151515" stroke-width="0.9"/><path d="M6.4 6.6H8.6L7.5 9Z" fill="#111"/></g><path d="M71 568.5H77" stroke="#606060" stroke-width="1" stroke-dasharray="1 1"/><rect x="62.5" y="564.5" width="8" height="8" rx="1" fill="url(#exg)" stroke="#9a9a9a"/><path d="M64.5 568.5H69.5" stroke="#3a55a8" stroke-width="1.2"/><g transform="translate(77,561)"><path d="M4 14.5H14.3V3.5" fill="none" stroke="#a8985a" stroke-width="1.3"/><path d="M2.6 2.5H13.2L11.6 13.5H0.6Z" fill="#a6d6e6"/><path d="M2.6 2.5L0.6 13.5" stroke="#8a8a8a" stroke-width="0.9"/><path d="M1.8 5.5H12.4M1.5 7.5H12.1M1.2 9.5H11.8M0.9 11.5H11.6" stroke="#c4e8f4" stroke-width="0.5"/><path d="M3 2.2H13" stroke="#30404a" stroke-width="1.3" stroke-dasharray="1 1"/></g><path d="M89 583.5H95" stroke="#606060" stroke-width="1" stroke-dasharray="1 1"/><rect x="80.5" y="579.5" width="8" height="8" rx="1" fill="url(#exg)" stroke="#9a9a9a"/><path d="M82.5 583.5H87.5" stroke="#3a55a8" stroke-width="1.2"/><path d="M85.0 581.0V586.0" stroke="#3a55a8" stroke-width="1.2"/><g transform="translate(95,574.5)"><rect x="0.6" y="7.5" width="2.4" height="7" rx="1.1" fill="#0a0a0a"/><rect x="12" y="7.5" width="2.4" height="7" rx="1.1" fill="#0a0a0a"/><rect x="2.6" y="6" width="9.8" height="9.5" rx="2" fill="#d8d8d8"/><circle cx="5.2" cy="13.6" r="1.9" fill="#050505"/><circle cx="9.8" cy="13.6" r="1.9" fill="#050505"/><circle cx="3.2" cy="2.3" r="1.5" fill="#8a6a50"/><circle cx="11.8" cy="2.3" r="1.5" fill="#8a6a50"/><rect x="3.2" y="1" width="8.6" height="7.5" rx="2.5" fill="#eeeeee"/><rect x="3.6" y="3.4" width="3.4" height="2.8" rx="0.6" fill="#fff" stroke="#151515" stroke-width="0.9"/><rect x="8" y="3.4" width="3.4" height="2.8" rx="0.6" fill="#fff" stroke="#151515" stroke-width="0.9"/><path d="M6.4 6.6H8.6L7.5 9Z" fill="#111"/></g></svg>
<div class="tr" style="left:24px;top:77px">Workspace_Frierfjord</div>
<div class="tr" style="left:41.5px;top:92px">Frierfjord macrofauna counts</div>
<div class="tr" style="left:59.5px;top:107px">Overall Transform1</div>
<div class="tr" style="left:77.5px;top:122px">Fourth-root</div>
<div class="tr" style="left:95.5px;top:137px">Resemblance1</div>
<div class="tr" style="left:113.5px;top:152px">BC,4th-root</div>
<div class="tr" style="left:131.5px;top:168px">CLUSTER2</div>
<div class="a" style="left:147.5px;top:183px;width:96px;height:14px;background:#add8e6"></div>
<div class="tr" style="left:149.5px;top:183px">Cluster_dendrogram</div>
<div class="tr" style="left:131.5px;top:198px">nMDS1</div>
<div class="tr" style="left:149.5px;top:213px">MultiPlot1</div>
<div class="tr" style="left:167.5px;top:228px">non-metric MDS</div>
<div class="tr" style="left:167.5px;top:243px">Graph3</div>
<div class="tr" style="left:167.5px;top:258px">Graph4</div>
<div class="tr" style="left:167.5px;top:273px">Graph5</div>
<div class="tr" style="left:41.5px;top:289px">Data2</div>
<div class="tr" style="left:59.5px;top:304px">Standardise1</div>
<div class="tr" style="left:77.5px;top:319px">Data3</div>
<div class="tr" style="left:95.5px;top:334px">Resemblance2</div>
<div class="tr" style="left:113.5px;top:349px">Resem2</div>
<div class="tr" style="left:131.5px;top:364px">CLUSTER1</div>
<div class="tr" style="left:149.5px;top:379px">Species_cluster</div>
<div class="tr" style="left:59.5px;top:394px">Overall Transform2</div>
<div class="tr" style="left:77.5px;top:410px">Data4</div>
<div class="tr" style="left:95.5px;top:425px">Shade Plot1</div>
<div class="tr" style="left:113.5px;top:440px">Shade_plot</div>
<div class="tr" style="left:41.5px;top:455px">Data5</div>
<div class="tr" style="left:59.5px;top:470px">Standardise2</div>
<div class="tr" style="left:77.5px;top:485px">Data6</div>
<div class="tr" style="left:95.5px;top:500px">Resemblance3</div>
<div class="tr" style="left:113.5px;top:516px">Resem3</div>
<div class="tr" style="left:131.5px;top:531px">CLUSTER3</div>
<div class="tr" style="left:149.5px;top:546px">Coherent_Species</div>
<div class="tr" style="left:95.5px;top:561px">Line Plot1</div>
<div class="tr" style="left:113.5px;top:576px">MultiPlot2</div>
<div class="a" style="left:258px;top:75px;width:1242px;height:825px;background:#ababab;border-top:2px solid #6c6c6c;border-left:2px solid #6c6c6c;border-right:2px solid #fafafa;border-bottom:2px solid #fafafa"></div>
<div class="a" style="left:0;top:0;z-index:1">
<div class="a" style="left:261px;top:77px;width:808px;height:165px;border:1px solid #5f5f5f;border-radius:7px 7px 0 0;background:#d7e4f2;overflow:hidden"><div class="a" style="left:0;top:0;right:0;height:29px;background:linear-gradient(#bccadb 0px,#c4d2e2 10px,#d0ddec 20px,#d7e4f2 27px)"></div><div class="a" style="left:0;top:0;right:0;bottom:0;border:1px solid rgba(255,255,255,0.75);border-radius:6px 6px 0 0"></div></div>
<div class="a" style="left:268px;top:107px;width:793px;height:126px;background:#f0f0f0;overflow:hidden"><div class="a" style="left:-268px;top:-107px;width:1500px;height:921px"><div class="a" style="left:268px;top:107px;width:800px;height:126px;background:#f0f0f0"></div>
<div class="a" style="left:289px;top:107px;font:italic 15px 'Liberation Sans',sans-serif;color:#1010ff;white-space:nowrap;line-height:18px">Frierfjord macrofauna abundances (6 sites x 4 replicates)</div>
<div class="a" style="left:289px;top:125px;font:italic 15px 'Liberation Sans',sans-serif;color:#008a00;white-space:nowrap;line-height:18px">Abundance</div>
<div class="a" style="left:284px;top:143px;width:800px;height:16px;background:#8080ff"></div>
<div class="a" style="left:649px;top:143px;font:12px 'Liberation Sans',sans-serif;color:#fff;line-height:16px">Samples</div>
<div class="a" style="left:268px;top:159px;width:16px;height:74px;background:#808000"></div>
<div class="a" style="left:268px;top:159px;width:16px;height:74px;"><div class="a" style="left:-29px;top:29px;width:74px;height:16px;transform:rotate(-90deg);font:12px 'Liberation Sans',sans-serif;color:#fff;text-align:left;line-height:16px;padding-left:12px">Variables</div></div>
<div class="a" style="left:284px;top:159px;width:800px;height:58px;background:#fff"></div>
<div class="a" style="left:284px;top:159px;width:800px;height:17px;background:#f0f0f0"></div>
<div class="a" style="left:284px;top:159px;width:95px;height:58px;background:#f0f0f0"></div>
<div class="a" style="left:284px;top:175px;width:800px;height:2px;background:#303030"></div>
<div class="a" style="left:379.0px;top:159px;width:2px;height:18px;background:#303030"></div>
<div class="a" style="left:380.5px;top:217px;width:1px;height:0px"></div>
<div class="a" style="left:381.5px;top:163px;font:11px 'Liberation Sans',sans-serif;line-height:12px">A1</div>
<div class="a" style="left:445.2px;top:159px;width:2px;height:18px;background:#303030"></div>
<div class="a" style="left:446.7px;top:217px;width:1px;height:0px"></div>
<div class="a" style="left:447.7px;top:163px;font:11px 'Liberation Sans',sans-serif;line-height:12px">A2</div>
<div class="a" style="left:445.2px;top:177px;width:1px;height:40px;background:#a8a8a8"></div>
<div class="a" style="left:511.4px;top:159px;width:2px;height:18px;background:#303030"></div>
<div class="a" style="left:512.9px;top:217px;width:1px;height:0px"></div>
<div class="a" style="left:513.9px;top:163px;font:11px 'Liberation Sans',sans-serif;line-height:12px">A3</div>
<div class="a" style="left:511.4px;top:177px;width:1px;height:40px;background:#a8a8a8"></div>
<div class="a" style="left:577.6px;top:159px;width:2px;height:18px;background:#303030"></div>
<div class="a" style="left:579.1px;top:217px;width:1px;height:0px"></div>
<div class="a" style="left:580.1px;top:163px;font:11px 'Liberation Sans',sans-serif;line-height:12px">A4</div>
<div class="a" style="left:577.6px;top:177px;width:1px;height:40px;background:#a8a8a8"></div>
<div class="a" style="left:643.8px;top:159px;width:2px;height:18px;background:#303030"></div>
<div class="a" style="left:645.3px;top:217px;width:1px;height:0px"></div>
<div class="a" style="left:646.3px;top:163px;font:11px 'Liberation Sans',sans-serif;line-height:12px">B1</div>
<div class="a" style="left:643.8px;top:177px;width:1px;height:40px;background:#a8a8a8"></div>
<div class="a" style="left:710.0px;top:159px;width:2px;height:18px;background:#303030"></div>
<div class="a" style="left:711.5px;top:217px;width:1px;height:0px"></div>
<div class="a" style="left:712.5px;top:163px;font:11px 'Liberation Sans',sans-serif;line-height:12px">B2</div>
<div class="a" style="left:710.0px;top:177px;width:1px;height:40px;background:#a8a8a8"></div>
<div class="a" style="left:776.2px;top:159px;width:2px;height:18px;background:#303030"></div>
<div class="a" style="left:777.7px;top:217px;width:1px;height:0px"></div>
<div class="a" style="left:778.7px;top:163px;font:11px 'Liberation Sans',sans-serif;line-height:12px">B3</div>
<div class="a" style="left:776.2px;top:177px;width:1px;height:40px;background:#a8a8a8"></div>
<div class="a" style="left:842.4px;top:159px;width:2px;height:18px;background:#303030"></div>
<div class="a" style="left:843.9px;top:217px;width:1px;height:0px"></div>
<div class="a" style="left:844.9px;top:163px;font:11px 'Liberation Sans',sans-serif;line-height:12px">B4</div>
<div class="a" style="left:842.4px;top:177px;width:1px;height:40px;background:#a8a8a8"></div>
<div class="a" style="left:908.6px;top:159px;width:2px;height:18px;background:#303030"></div>
<div class="a" style="left:910.1px;top:217px;width:1px;height:0px"></div>
<div class="a" style="left:911.1px;top:163px;font:11px 'Liberation Sans',sans-serif;line-height:12px">C1</div>
<div class="a" style="left:908.6px;top:177px;width:1px;height:40px;background:#a8a8a8"></div>
<div class="a" style="left:379px;top:177px;width:2px;height:40px;background:#303030"></div>
<div class="a" style="left:284px;top:193px;width:95px;height:2px;background:#303030"></div>
<div class="a" style="left:381px;top:193px;width:700px;height:1px;background:#c0c0c0"></div>
<div class="a" style="left:287px;top:180px;font:11px 'Liberation Sans',sans-serif;line-height:12px;white-space:nowrap">Cerianthus lloydi</div>
<div class="a" style="left:379.0px;top:180px;width:63.5px;text-align:right;font:11px 'Liberation Sans',sans-serif;line-height:12px">0</div>
<div class="a" style="left:445.2px;top:180px;width:63.5px;text-align:right;font:11px 'Liberation Sans',sans-serif;line-height:12px">0</div>
<div class="a" style="left:511.4px;top:180px;width:63.5px;text-align:right;font:11px 'Liberation Sans',sans-serif;line-height:12px">0</div>
<div class="a" style="left:577.6px;top:180px;width:63.5px;text-align:right;font:11px 'Liberation Sans',sans-serif;line-height:12px">0</div>
<div class="a" style="left:643.8px;top:180px;width:63.5px;text-align:right;font:11px 'Liberation Sans',sans-serif;line-height:12px">0</div>
<div class="a" style="left:710.0px;top:180px;width:63.5px;text-align:right;font:11px 'Liberation Sans',sans-serif;line-height:12px">0</div>
<div class="a" style="left:776.2px;top:180px;width:63.5px;text-align:right;font:11px 'Liberation Sans',sans-serif;line-height:12px">0</div>
<div class="a" style="left:842.4px;top:180px;width:63.5px;text-align:right;font:11px 'Liberation Sans',sans-serif;line-height:12px">0</div>
<div class="a" style="left:908.6px;top:180px;width:63.5px;text-align:right;font:11px 'Liberation Sans',sans-serif;line-height:12px">0</div>
<div class="a" style="left:284px;top:210px;width:95px;height:2px;background:#303030"></div>
<div class="a" style="left:381px;top:210px;width:700px;height:1px;background:#c0c0c0"></div>
<div class="a" style="left:287px;top:197px;font:11px 'Liberation Sans',sans-serif;line-height:12px;white-space:nowrap">Halicryptus sp</div>
<div class="a" style="left:379.0px;top:197px;width:63.5px;text-align:right;font:11px 'Liberation Sans',sans-serif;line-height:12px">0</div>
<div class="a" style="left:445.2px;top:197px;width:63.5px;text-align:right;font:11px 'Liberation Sans',sans-serif;line-height:12px">0</div>
<div class="a" style="left:511.4px;top:197px;width:63.5px;text-align:right;font:11px 'Liberation Sans',sans-serif;line-height:12px">0</div>
<div class="a" style="left:577.6px;top:197px;width:63.5px;text-align:right;font:11px 'Liberation Sans',sans-serif;line-height:12px">1</div>
<div class="a" style="left:643.8px;top:197px;width:63.5px;text-align:right;font:11px 'Liberation Sans',sans-serif;line-height:12px">0</div>
<div class="a" style="left:710.0px;top:197px;width:63.5px;text-align:right;font:11px 'Liberation Sans',sans-serif;line-height:12px">0</div>
<div class="a" style="left:776.2px;top:197px;width:63.5px;text-align:right;font:11px 'Liberation Sans',sans-serif;line-height:12px">0</div>
<div class="a" style="left:842.4px;top:197px;width:63.5px;text-align:right;font:11px 'Liberation Sans',sans-serif;line-height:12px">0</div>
<div class="a" style="left:908.6px;top:197px;width:63.5px;text-align:right;font:11px 'Liberation Sans',sans-serif;line-height:12px">0</div>
<div class="a" style="left:284px;top:227px;width:95px;height:2px;background:#303030"></div>
<div class="a" style="left:381px;top:227px;width:700px;height:1px;background:#c0c0c0"></div>
<div class="a" style="left:379.0px;top:214px;width:63.5px;text-align:right;font:11px 'Liberation Sans',sans-serif;line-height:12px">0</div>
<div class="a" style="left:445.2px;top:214px;width:63.5px;text-align:right;font:11px 'Liberation Sans',sans-serif;line-height:12px">0</div>
<div class="a" style="left:511.4px;top:214px;width:63.5px;text-align:right;font:11px 'Liberation Sans',sans-serif;line-height:12px">0</div>
<div class="a" style="left:577.6px;top:214px;width:63.5px;text-align:right;font:11px 'Liberation Sans',sans-serif;line-height:12px">0</div>
<div class="a" style="left:643.8px;top:214px;width:63.5px;text-align:right;font:11px 'Liberation Sans',sans-serif;line-height:12px">0</div>
<div class="a" style="left:710.0px;top:214px;width:63.5px;text-align:right;font:11px 'Liberation Sans',sans-serif;line-height:12px">0</div>
<div class="a" style="left:776.2px;top:214px;width:63.5px;text-align:right;font:11px 'Liberation Sans',sans-serif;line-height:12px">0</div>
<div class="a" style="left:842.4px;top:214px;width:63.5px;text-align:right;font:11px 'Liberation Sans',sans-serif;line-height:12px">0</div>
<div class="a" style="left:908.6px;top:214px;width:63.5px;text-align:right;font:11px 'Liberation Sans',sans-serif;line-height:12px">0</div>
<div class="a" style="left:287px;top:214px;font:11px 'Liberation Sans',sans-serif;line-height:12px">Owe</div>
<div class="a" style="left:381px;top:177px;width:64px;height:17px;border:1px dashed #222;border-left:none;border-top:none"></div>
<div class="a" style="left:284px;top:217px;width:800px;height:16px;background:#f0f0f0"></div>
<div class="a" style="left:300px;top:218px;width:304px;height:14px;background:#cdcdcd"></div>
<svg class="a" style="left:288px;top:220px" width="10" height="10"><path d="M6.5 1.5L3 5L6.5 8.5" fill="none" stroke="#606060" stroke-width="1.6"/></svg></div></div>
<svg class="a" style="left:270px;top:87px" width="16" height="16"><g transform="translate(0,0)"><path d="M3 4Q0 6 1 11M11 4Q14 6 13 11M3 7L0 9M11 7L14 9" stroke="#b8b8b8" stroke-width="0.8" fill="none"/><ellipse cx="7" cy="4" rx="3.2" ry="3" fill="#b06a28"/><ellipse cx="7" cy="9.5" rx="3.6" ry="3.8" fill="#9a5418"/><rect x="4.6" y="8" width="2" height="1.8" fill="#fff"/><rect x="7.4" y="8" width="2" height="1.8" fill="#fff"/></g></svg>
<div class="wt" style="left:289px;top:87px;color:#8e8e8e;line-height:16px;font-size:11px">Frierfjord macrofauna counts</div>
<div class="a" style="left:965px;top:87px;width:30px;height:17px;border:1px solid #98a6ba;border-radius:3px;background:linear-gradient(#d8e3f0 0%,#cfdbe9 50%,#c4d2e3 52%,#cbd8e8 100%);box-shadow:inset 0 0 0 1px rgba(255,255,255,0.5)"></div>
<div class="a" style="left:974px;top:95px;width:11px;height:5px;border:1px solid #3a3a3a;border-radius:2px;background:#fff"></div>
<div class="a" style="left:997px;top:87px;width:30px;height:17px;border:1px solid #98a6ba;border-radius:3px;background:linear-gradient(#d8e3f0 0%,#cfdbe9 50%,#c4d2e3 52%,#cbd8e8 100%);box-shadow:inset 0 0 0 1px rgba(255,255,255,0.5)"></div>
<div class="a" style="left:1007px;top:91px;width:10px;height:9px;border:1px solid #3a3a3a;border-radius:2px;background:#fff"></div>
<div class="a" style="left:1009px;top:94px;width:6px;height:3px;background:#5a7090"></div>
<div class="a" style="left:1029px;top:87px;width:30px;height:17px;border:1px solid #98a6ba;border-radius:3px;background:linear-gradient(#d8e3f0 0%,#cfdbe9 50%,#c4d2e3 52%,#cbd8e8 100%);box-shadow:inset 0 0 0 1px rgba(255,255,255,0.5)"></div>
<svg class="a" style="left:1037px;top:90px" width="14" height="12"><path d="M2.5 2L11 10M11 2L2.5 10" stroke="#333" stroke-width="3.8" stroke-linecap="round"/><path d="M2.5 2L11 10M11 2L2.5 10" stroke="#fff" stroke-width="2.1" stroke-linecap="round"/></svg>
</div>
<div class="a" style="left:0;top:0;z-index:2">
<div class="a" style="left:261px;top:240px;width:740px;height:649px;border:1px solid #5f5f5f;border-radius:7px 7px 0 0;background:#d7e4f2;overflow:hidden"><div class="a" style="left:0;top:0;right:0;height:28px;background:linear-gradient(#bccadb 0px,#c4d2e2 10px,#d0ddec 20px,#d7e4f2 27px)"></div><div class="a" style="left:0;top:0;right:0;bottom:0;border:1px solid rgba(255,255,255,0.75);border-radius:6px 6px 0 0"></div></div>
<div class="a" style="left:267px;top:269px;width:728px;height:612px;background:#fff;overflow:hidden"><div class="a" style="left:-267px;top:-269px;width:1500px;height:921px"><svg class="a" style="left:0;top:0" width="1500" height="921"><text transform="translate(328,487) rotate(-22.62) skewX(-7)" font-family="Liberation Sans" font-size="14" fill="#1010ff" textLength="92.8" lengthAdjust="spacingAndGlyphs">Frierfjord</text><text transform="translate(420.8,447.6) rotate(-21.72) skewX(-7)" font-family="Liberation Sans" font-size="13.6" fill="#1010ff" textLength="110.2" lengthAdjust="spacingAndGlyphs">macrofauna</text><text transform="translate(528,403.6) rotate(-22.23) skewX(-7)" font-family="Liberation Sans" font-size="13.2" fill="#1010ff" textLength="99.4" lengthAdjust="spacingAndGlyphs">abundances</text><text transform="translate(623,368) rotate(-22.97) skewX(-7)" font-family="Liberation Sans" font-size="11.8" fill="#1010ff" textLength="149.9" lengthAdjust="spacingAndGlyphs">(6 sites x 4 replicates)</text><text transform="translate(531.2,414.8) rotate(-23.05) skewX(-7)" font-family="Liberation Sans" font-size="12.3" fill="#1010ff" textLength="118.0" lengthAdjust="spacingAndGlyphs">Non-metric MDS</text><path d="M601.3 389.7L751.3 327L766.7 335L614.7 400.3Z" stroke="#111" stroke-width="1" fill="none"/><path d="M617.3 401.7L770.7 337.7L929 423.5" stroke="#111" stroke-width="1" fill="none"/><text transform="translate(606.0,393.0) rotate(-22.9) skewX(-6.8) scale(1.25,1)" font-family="Liberation Sans" font-size="8" fill="#000" text-anchor="start" textLength="77" lengthAdjust="spacingAndGlyphs">Transform: Fourth root</text><text transform="translate(617.0,400.5) rotate(-24.3) skewX(-6.8) scale(1.25,1)" font-family="Liberation Sans" font-size="8" fill="#000" text-anchor="start" textLength="127" lengthAdjust="spacingAndGlyphs">Resemblance: S17 Bray-Curtis similarity</text><text transform="translate(725.0,366.4) rotate(-27) skewX(-6.8) scale(1.2,1)" font-family="Liberation Sans" font-size="8" fill="#000" text-anchor="start" textLength="46" lengthAdjust="spacingAndGlyphs">2D Stress: 0.1</text><path d="M775 335L821 315L878 340L831 365Z" stroke="#111" stroke-width="1" fill="none"/><text transform="translate(781.0,340.0) rotate(-24.6) skewX(-6.8) scale(1.15,1)" font-family="Liberation Sans" font-size="11" fill="#1a1aff" text-anchor="start" textLength="46" lengthAdjust="spacingAndGlyphs">Similarity</text><path d="M795 344.0L818 333.0" stroke="#00dd00" stroke-width="1.2" /><text transform="translate(821.0,335.0) rotate(-24) skewX(-6.8) scale(1.2,1)" font-family="Liberation Sans" font-size="10" fill="#000" text-anchor="start" >20</text><path d="M806 349.5L829 338.5" stroke="#1a1aff" stroke-width="1.2" stroke-dasharray="4 3"/><text transform="translate(832.0,340.5) rotate(-24) skewX(-6.8) scale(1.2,1)" font-family="Liberation Sans" font-size="10" fill="#000" text-anchor="start" >40</text><path d="M817 355.0L840 344.0" stroke="#00e0ff" stroke-width="1.2" stroke-dasharray="4 3"/><text transform="translate(843.0,346.0) rotate(-24) skewX(-6.8) scale(1.2,1)" font-family="Liberation Sans" font-size="10" fill="#000" text-anchor="start" >60</text><path d="M828 360.5L851 349.5" stroke="#ff2020" stroke-width="1.2" stroke-dasharray="3 3"/><text transform="translate(854.0,351.5) rotate(-24) skewX(-6.8) scale(1.2,1)" font-family="Liberation Sans" font-size="10" fill="#000" text-anchor="start" >80</text><path d="M837 367L858 358L940 398M836 367L940 423" stroke="#111" stroke-width="1" fill="none"/><text transform="translate(840.0,372.0) rotate(-24) skewX(-6.8) scale(1.15,1)" font-family="Liberation Sans" font-size="11" fill="#1a1aff" text-anchor="start" textLength="24" lengthAdjust="spacingAndGlyphs">Site</text><path d="M856 373L865 376L857 380Z" fill="#00ff00"/><text transform="translate(866,367) rotate(58)" font-family="Liberation Sans" font-size="11" fill="#000">A</text><path d="M867 383L875 378L877 386Z" fill="#0000ff"/><text transform="translate(878,373) rotate(58)" font-family="Liberation Sans" font-size="11" fill="#000">B</text><path d="M879 386L886 383L889 389L882 392Z" fill="#00ffff"/><text transform="translate(890,379) rotate(58)" font-family="Liberation Sans" font-size="11" fill="#000">C</text><rect x="894" y="391" width="8" height="7" fill="#ff0000"/><text transform="translate(904,386) rotate(58)" font-family="Liberation Sans" font-size="11" fill="#000">D</text><ellipse cx="910" cy="402" rx="4.5" ry="3.5" fill="#ff00ff"/><text transform="translate(916,393) rotate(58)" font-family="Liberation Sans" font-size="11" fill="#000">E</text><path d="M918 409H926M922 405V413" stroke="#909090"/><text transform="translate(928,400) rotate(58)" font-family="Liberation Sans" font-size="11" fill="#000">G</text><path d="M494.6 859.4L297.2 544.9L600 411L878 339.6M508.6 859.4L800 646" stroke="#111" stroke-width="1" fill="none"/><path d="M481.2 529.3L607.4 354.6L614.8 442.6" stroke="#111" stroke-width="1" fill="none"/><path d="M478.3 521.5L645.5 552.5" stroke="#111" stroke-width="1" fill="none"/><path d="M478.3 521.5L485.2 546.9" stroke="#111" stroke-width="1" fill="none"/><path d="M435.3 514.7L531.1 545.9L531.1 551.8" stroke="#111" stroke-width="1" fill="none"/><path d="M435.3 514.7L459.8 582.1" stroke="#111" stroke-width="1" fill="none"/><path d="M410.9 568.4L558.0 526.6L560.0 532.0" stroke="#111" stroke-width="1" fill="none"/><path d="M410.9 568.4L448.0 653.4" stroke="#111" stroke-width="1" fill="none"/><path d="M480.3 568.4L580.0 536.0L584.0 553.0" stroke="#111" stroke-width="1" fill="none"/><path d="M480.3 568.4L501.8 629.9" stroke="#111" stroke-width="1" fill="none"/><path d="M642.6 534.0L649.5 580.0" stroke="#111" stroke-width="1" fill="none"/><path d="M642.6 534.0L653.4 545.7L665.0 572.0L668.0 606.3" stroke="#111" stroke-width="1" fill="none"/><path d="M653.4 545.7L688.6 567.2L693.4 621.0" stroke="#111" stroke-width="1" fill="none"/><path d="M668.0 548.6L624.0 587.7" stroke="#111" stroke-width="1" fill="none"/><path d="M592.8 585.8L673.0 592.6L678.8 652.2" stroke="#111" stroke-width="1" fill="none"/><path d="M577.1 559.4L589.8 548.6L599.6 590.7" stroke="#111" stroke-width="1" fill="none"/><path d="M577.1 559.4L586.9 602.4" stroke="#111" stroke-width="1" fill="none"/><path d="M600.6 626.8L590.0 585.0" stroke="#111" stroke-width="1" fill="none"/><path d="M587.9 660.0L582.0 612.0" stroke="#111" stroke-width="1" fill="none"/><path d="M670.0 631.7L667.0 592.0" stroke="#111" stroke-width="1" fill="none"/><path d="M631.0 399.6L636.9 441.3" stroke="#111" stroke-width="1" fill="none"/><path d="M631.0 399.6L614.8 432.0" stroke="#111" stroke-width="1" fill="none"/><path d="M620.6 402.2L627.1 456.9" stroke="#111" stroke-width="1" fill="none"/><path d="M616.0 420.0L621.3 475.8" stroke="#111" stroke-width="1" fill="none"/><path d="M552.8 429.2L549.6 413.2L612.0 400.0" stroke="#111" stroke-width="1" fill="none"/><path d="M825.0 453.4L827.2 418.8L844.8 397.6L855.0 401.0" stroke="#111" stroke-width="1" fill="none"/><path d="M846.2 445.6L848.0 416.0L873.0 404.0L874.0 432.9" stroke="#111" stroke-width="1" fill="none"/><path d="M856.1 414.6L853.0 372.0" stroke="#111" stroke-width="1" fill="none"/><path d="M856.5 372.0L860.0 376.0" stroke="#111" stroke-width="1" fill="none"/><path d="M878.0 339.6L876.0 410.0" stroke="#111" stroke-width="1" fill="none"/><path d="M873.7 488.0L877.0 430.0L880.0 424.0L885.0 413.0" stroke="#111" stroke-width="1" fill="none"/><path d="M892.8 472.4L896.0 413.0" stroke="#111" stroke-width="1" fill="none"/><path d="M878.7 465.4L884.0 420.0L889.0 412.0" stroke="#111" stroke-width="1" fill="none"/><path d="M891.4 449.9L900.0 420.0" stroke="#111" stroke-width="1" fill="none"/><path d="M864.0 380.0L866.0 420.0" stroke="#111" stroke-width="1" fill="none"/><path d="M960.0 470.0C954.7 463.2 938.5 439.9 928.0 429.4C917.5 418.9 910.4 413.1 897.0 406.8C883.6 400.5 868.8 395.4 847.6 391.3C826.4 387.2 794.6 382.7 770.0 382.0C745.4 381.3 724.1 383.0 700.0 387.2C675.9 391.4 648.5 400.0 625.2 407.4C601.9 414.8 584.1 419.6 560.0 431.5C535.9 443.4 501.2 464.7 480.4 478.7C459.6 492.7 447.9 502.9 435.3 515.6C422.7 528.3 413.3 541.0 405.0 554.7C396.7 568.4 389.6 584.0 385.5 597.7C381.4 611.4 380.4 626.1 380.6 636.8C380.8 647.5 381.6 652.2 386.8 662.0C392.0 671.8 400.8 685.3 412.0 695.6C423.2 705.9 433.0 715.9 454.0 723.6C475.0 731.3 510.0 740.4 538.0 741.8C566.0 743.2 591.7 738.3 622.0 732.0C652.3 725.7 703.7 708.7 720.0 704.0" stroke="#22dd22" stroke-width="1.2" fill="none"/><path d="M560.0 532.2C542.4 532.9 528.6 536.3 514.5 539.1C500.4 541.9 488.4 543.3 475.4 548.8C462.4 554.3 447.7 564.1 436.3 572.3C424.9 580.4 413.8 588.6 407.0 597.7C400.2 606.8 396.9 617.2 395.3 627.0C393.7 636.8 394.3 647.5 397.2 656.3C400.1 665.1 405.8 673.0 412.9 680.0C420.0 687.0 419.1 690.4 440.0 698.4C460.9 706.4 507.7 724.5 538.0 727.8C568.3 731.1 594.0 726.6 622.0 718.0C650.0 709.4 687.6 691.9 706.0 676.0C724.4 660.1 730.8 638.6 732.5 622.9C734.2 607.2 724.0 593.6 716.0 581.9C708.0 570.2 700.6 560.3 684.6 552.5C668.6 544.7 640.8 538.4 620.0 535.0C599.2 531.6 577.6 531.5 560.0 532.2Z" stroke="#2020ee" stroke-width="1.2" fill="none" stroke-dasharray="6 4"/><ellipse cx="623.9" cy="458.2" rx="47.3" ry="32.9" stroke="#2020ee" stroke-width="1.2" fill="none" stroke-dasharray="6 4"/><ellipse cx="861.7" cy="453.4" rx="68.4" ry="50.8" stroke="#2020ee" stroke-width="1.2" fill="none" stroke-dasharray="6 4"/><ellipse cx="623.9" cy="457.6" rx="38.1" ry="28.7" stroke="#00e8ff" stroke-width="1.1" fill="none" stroke-dasharray="5 3"/><ellipse cx="846.2" cy="435.8" rx="44.1" ry="29.6" stroke="#00e8ff" stroke-width="1.1" fill="none" stroke-dasharray="5 3"/><ellipse cx="883.6" cy="470.3" rx="36.7" ry="28.2" stroke="#00e8ff" stroke-width="1.1" fill="none" stroke-dasharray="5 3"/><ellipse cx="460.7" cy="583" rx="17.6" ry="12.7" stroke="#00e8ff" stroke-width="1.1" fill="none" stroke-dasharray="5 3"/><ellipse cx="501.8" cy="631" rx="18" ry="13" stroke="#00e8ff" stroke-width="1.1" fill="none" stroke-dasharray="5 3"/><ellipse cx="449" cy="655.3" rx="18" ry="13" stroke="#00e8ff" stroke-width="1.1" fill="none" stroke-dasharray="5 3"/><ellipse cx="592.8" cy="596.5" rx="25" ry="17.6" stroke="#00e8ff" stroke-width="1.1" fill="none" stroke-dasharray="5 3"/><ellipse cx="594.7" cy="642.5" rx="34" ry="29" stroke="#00e8ff" stroke-width="1.1" fill="none" stroke-dasharray="5 3"/><ellipse cx="667" cy="607.3" rx="49" ry="42" stroke="#00e8ff" stroke-width="1.1" fill="none" stroke-dasharray="5 3"/><ellipse cx="677.8" cy="652.2" rx="18.6" ry="14.7" stroke="#00e8ff" stroke-width="1.1" fill="none" stroke-dasharray="5 3"/><path d="M610.6 439.5L619.7 443.0L611.3 446.1Z" fill="#00ff00" stroke="#00ff00" stroke-width="0.8" stroke-linejoin="round"/><ellipse cx="614.8" cy="442.6" rx="7.0" ry="4.7" stroke="#ff2020" stroke-width="1" fill="none" stroke-dasharray="3 2"/><path d="M632.7 438.2L641.8 441.7L633.4 444.8Z" fill="#00ff00" stroke="#00ff00" stroke-width="0.8" stroke-linejoin="round"/><ellipse cx="636.9" cy="441.3" rx="7.0" ry="4.7" stroke="#ff2020" stroke-width="1" fill="none" stroke-dasharray="3 2"/><path d="M622.9 453.8L632.0 457.2L623.6 460.4Z" fill="#00ff00" stroke="#00ff00" stroke-width="0.8" stroke-linejoin="round"/><ellipse cx="627.1" cy="456.9" rx="7.0" ry="4.7" stroke="#ff2020" stroke-width="1" fill="none" stroke-dasharray="3 2"/><path d="M617.1 472.7L626.2 476.2L617.8 479.3Z" fill="#00ff00" stroke="#00ff00" stroke-width="0.8" stroke-linejoin="round"/><ellipse cx="621.3" cy="475.8" rx="7.0" ry="4.7" stroke="#ff2020" stroke-width="1" fill="none" stroke-dasharray="3 2"/><path d="M640.5 580.7L653.0 573.8L657.8 585.5Z" fill="#0000ff" stroke="#0000ff" stroke-width="0.8" stroke-linejoin="round"/><ellipse cx="649.5" cy="580" rx="9.5" ry="7.0" stroke="#ff2020" stroke-width="1" fill="none" stroke-dasharray="3 2"/><path d="M684.4 621.7L696.9 614.8L701.7 626.5Z" fill="#0000ff" stroke="#0000ff" stroke-width="0.8" stroke-linejoin="round"/><ellipse cx="693.4" cy="621" rx="9.5" ry="7.0" stroke="#ff2020" stroke-width="1" fill="none" stroke-dasharray="3 2"/><path d="M591.6 627.5L604.1 620.6L608.9 632.3Z" fill="#0000ff" stroke="#0000ff" stroke-width="0.8" stroke-linejoin="round"/><ellipse cx="600.6" cy="626.8" rx="9.5" ry="7.0" stroke="#ff2020" stroke-width="1" fill="none" stroke-dasharray="3 2"/><path d="M669.8 652.9L682.2 646.0L687.1 657.7Z" fill="#0000ff" stroke="#0000ff" stroke-width="0.8" stroke-linejoin="round"/><ellipse cx="678.8" cy="652.2" rx="9.5" ry="7.0" stroke="#ff2020" stroke-width="1" fill="none" stroke-dasharray="3 2"/><path d="M439.4 652.2L449.1 647.1L456.6 654.0L446.9 659.7Z" fill="#00ffff" stroke="#00ffff" stroke-width="0.8" stroke-linejoin="round"/><ellipse cx="448" cy="653.4" rx="9.5" ry="7.0" stroke="#ff2020" stroke-width="1" fill="none" stroke-dasharray="3 2"/><path d="M579.3 658.9L589.0 653.7L596.5 660.6L586.8 666.3Z" fill="#00ffff" stroke="#00ffff" stroke-width="0.8" stroke-linejoin="round"/><ellipse cx="587.9" cy="660" rx="9.5" ry="7.0" stroke="#ff2020" stroke-width="1" fill="none" stroke-dasharray="3 2"/><path d="M659.4 605.1L669.1 600.0L676.6 606.9L666.9 612.6Z" fill="#00ffff" stroke="#00ffff" stroke-width="0.8" stroke-linejoin="round"/><ellipse cx="668" cy="606.3" rx="9.5" ry="7.0" stroke="#ff2020" stroke-width="1" fill="none" stroke-dasharray="3 2"/><path d="M661.4 630.6L671.1 625.4L678.6 632.3L668.9 638.0Z" fill="#00ffff" stroke="#00ffff" stroke-width="0.8" stroke-linejoin="round"/><ellipse cx="670" cy="631.7" rx="9.5" ry="7.0" stroke="#ff2020" stroke-width="1" fill="none" stroke-dasharray="3 2"/><path d="M451.8 580.4L461.5 575.8L467.9 583.8L458.1 588.4Z" fill="#ff0000" stroke="#ff0000" stroke-width="0.8" stroke-linejoin="round"/><ellipse cx="459.8" cy="582.1" rx="9.5" ry="7.0" stroke="#ff2020" stroke-width="1" fill="none" stroke-dasharray="3 2"/><path d="M493.8 628.2L503.5 623.6L509.9 631.6L500.1 636.2Z" fill="#ff0000" stroke="#ff0000" stroke-width="0.8" stroke-linejoin="round"/><ellipse cx="501.8" cy="629.9" rx="9.5" ry="7.0" stroke="#ff2020" stroke-width="1" fill="none" stroke-dasharray="3 2"/><path d="M591.6 589.0L601.3 584.4L607.6 592.4L597.9 597.0Z" fill="#ff0000" stroke="#ff0000" stroke-width="0.8" stroke-linejoin="round"/><ellipse cx="599.6" cy="590.7" rx="9.5" ry="7.0" stroke="#ff2020" stroke-width="1" fill="none" stroke-dasharray="3 2"/><path d="M578.9 600.7L588.6 596.1L594.9 604.1L585.2 608.7Z" fill="#ff0000" stroke="#ff0000" stroke-width="0.8" stroke-linejoin="round"/><ellipse cx="586.9" cy="602.4" rx="9.5" ry="7.0" stroke="#ff2020" stroke-width="1" fill="none" stroke-dasharray="3 2"/><ellipse cx="856.1" cy="414.6" rx="4.5" ry="3.2" fill="#ff00ff"/><ellipse cx="856.1" cy="414.6" rx="7.0" ry="4.7" stroke="#ff2020" stroke-width="1" fill="none" stroke-dasharray="3 2"/><ellipse cx="870.9" cy="432.9" rx="4.5" ry="3.2" fill="#ff00ff"/><ellipse cx="870.9" cy="432.9" rx="7.0" ry="4.7" stroke="#ff2020" stroke-width="1" fill="none" stroke-dasharray="3 2"/><ellipse cx="846.2" cy="445.6" rx="4.5" ry="3.2" fill="#ff00ff"/><ellipse cx="846.2" cy="445.6" rx="7.0" ry="4.7" stroke="#ff2020" stroke-width="1" fill="none" stroke-dasharray="3 2"/><ellipse cx="825" cy="453.4" rx="4.5" ry="3.2" fill="#ff00ff"/><ellipse cx="825" cy="453.4" rx="7.0" ry="4.7" stroke="#ff2020" stroke-width="1" fill="none" stroke-dasharray="3 2"/><path d="M886.4 446.4L896.4 453.4M896.4 446.4L886.4 453.4" stroke="#909090" stroke-width="1"/><ellipse cx="891.4" cy="449.9" rx="7.0" ry="4.7" stroke="#ff2020" stroke-width="1" fill="none" stroke-dasharray="3 2"/><path d="M873.7 461.9L883.7 468.9M883.7 461.9L873.7 468.9" stroke="#909090" stroke-width="1"/><ellipse cx="878.7" cy="465.4" rx="7.0" ry="4.7" stroke="#ff2020" stroke-width="1" fill="none" stroke-dasharray="3 2"/><path d="M887.8 468.9L897.8 475.9M897.8 468.9L887.8 475.9" stroke="#909090" stroke-width="1"/><ellipse cx="892.8" cy="472.4" rx="7.0" ry="4.7" stroke="#ff2020" stroke-width="1" fill="none" stroke-dasharray="3 2"/><path d="M868.7 484.5L878.7 491.5M878.7 484.5L868.7 491.5" stroke="#909090" stroke-width="1"/><ellipse cx="873.7" cy="488" rx="7.0" ry="4.7" stroke="#ff2020" stroke-width="1" fill="none" stroke-dasharray="3 2"/><text transform="translate(597.3,443.1) rotate(-31) skewX(6) scale(1.35,1)" font-family="Liberation Sans" font-size="12" fill="#000" text-anchor="start" >A2</text><text transform="translate(619.4,441.8) rotate(-31) skewX(6) scale(1.35,1)" font-family="Liberation Sans" font-size="12" fill="#000" text-anchor="start" >A3</text><text transform="translate(609.6,457.4) rotate(-31) skewX(6) scale(1.35,1)" font-family="Liberation Sans" font-size="12" fill="#000" text-anchor="start" >A4</text><text transform="translate(603.8,476.3) rotate(-31) skewX(6) scale(1.35,1)" font-family="Liberation Sans" font-size="12" fill="#000" text-anchor="start" >A1</text><text transform="translate(626.0,580.5) rotate(-27) skewX(6) scale(1.28,1)" font-family="Liberation Sans" font-size="18.5" fill="#000" text-anchor="start" >B3</text><text transform="translate(669.9,621.5) rotate(-27) skewX(6) scale(1.28,1)" font-family="Liberation Sans" font-size="18.5" fill="#000" text-anchor="start" >B1</text><text transform="translate(577.1,627.3) rotate(-27) skewX(6) scale(1.28,1)" font-family="Liberation Sans" font-size="18.5" fill="#000" text-anchor="start" >B2</text><text transform="translate(655.3,652.7) rotate(-27) skewX(6) scale(1.28,1)" font-family="Liberation Sans" font-size="18.5" fill="#000" text-anchor="start" >B4</text><text transform="translate(424.5,653.9) rotate(-27) skewX(6) scale(1.28,1)" font-family="Liberation Sans" font-size="18.5" fill="#000" text-anchor="start" >C1</text><text transform="translate(564.4,660.5) rotate(-27) skewX(6) scale(1.28,1)" font-family="Liberation Sans" font-size="18.5" fill="#000" text-anchor="start" >C2</text><text transform="translate(644.5,606.8) rotate(-27) skewX(6) scale(1.28,1)" font-family="Liberation Sans" font-size="18.5" fill="#000" text-anchor="start" >C3</text><text transform="translate(646.5,632.2) rotate(-27) skewX(6) scale(1.28,1)" font-family="Liberation Sans" font-size="18.5" fill="#000" text-anchor="start" >C4</text><text transform="translate(436.3,582.6) rotate(-27) skewX(6) scale(1.28,1)" font-family="Liberation Sans" font-size="18.5" fill="#000" text-anchor="start" >D3</text><text transform="translate(478.3,630.4) rotate(-27) skewX(6) scale(1.28,1)" font-family="Liberation Sans" font-size="18.5" fill="#000" text-anchor="start" >D1</text><text transform="translate(576.1,591.2) rotate(-27) skewX(6) scale(1.28,1)" font-family="Liberation Sans" font-size="18.5" fill="#000" text-anchor="start" >D2</text><text transform="translate(563.4,602.9) rotate(-27) skewX(6) scale(1.28,1)" font-family="Liberation Sans" font-size="18.5" fill="#000" text-anchor="start" >D4</text><text transform="translate(833.6,415.1) rotate(-31) skewX(6) scale(1.35,1)" font-family="Liberation Sans" font-size="12" fill="#000" text-anchor="start" >E2</text><text transform="translate(848.4,433.4) rotate(-31) skewX(6) scale(1.35,1)" font-family="Liberation Sans" font-size="12" fill="#000" text-anchor="start" >E4</text><text transform="translate(823.7,446.1) rotate(-31) skewX(6) scale(1.35,1)" font-family="Liberation Sans" font-size="12" fill="#000" text-anchor="start" >E3</text><text transform="translate(802.5,453.9) rotate(-31) skewX(6) scale(1.35,1)" font-family="Liberation Sans" font-size="12" fill="#000" text-anchor="start" >E1</text><text transform="translate(868.9,450.4) rotate(-31) skewX(6) scale(1.35,1)" font-family="Liberation Sans" font-size="12" fill="#000" text-anchor="start" >G3</text><text transform="translate(856.2,465.9) rotate(-31) skewX(6) scale(1.35,1)" font-family="Liberation Sans" font-size="12" fill="#000" text-anchor="start" >G2</text><text transform="translate(870.3,472.9) rotate(-31) skewX(6) scale(1.35,1)" font-family="Liberation Sans" font-size="12" fill="#000" text-anchor="start" >G1</text><text transform="translate(851.2,488.5) rotate(-31) skewX(6) scale(1.35,1)" font-family="Liberation Sans" font-size="12" fill="#000" text-anchor="start" >G4</text></svg><div class="a" style="left:350px;top:866px;width:700px;height:15px;background:#f0f0f0"></div><div class="a" style="left:421px;top:866px;width:500px;height:14px;background:#cdcdcd"></div><svg class="a" style="left:352px;top:868px" width="10" height="10"><path d="M7 1.5L3 5L7 8.5" fill="none" stroke="#404040" stroke-width="1.8"/></svg></div></div>
<svg class="a" style="left:270px;top:250px" width="16" height="16"><g transform="translate(0,-1.5)"><rect x="0.6" y="7.5" width="2.4" height="7" rx="1.1" fill="#0a0a0a"/><rect x="12" y="7.5" width="2.4" height="7" rx="1.1" fill="#0a0a0a"/><rect x="2.6" y="6" width="9.8" height="9.5" rx="2" fill="#d8d8d8"/><circle cx="5.2" cy="13.6" r="1.9" fill="#050505"/><circle cx="9.8" cy="13.6" r="1.9" fill="#050505"/><circle cx="3.2" cy="2.3" r="1.5" fill="#8a6a50"/><circle cx="11.8" cy="2.3" r="1.5" fill="#8a6a50"/><rect x="3.2" y="1" width="8.6" height="7.5" rx="2.5" fill="#eeeeee"/><rect x="3.6" y="3.4" width="3.4" height="2.8" rx="0.6" fill="#fff" stroke="#151515" stroke-width="0.9"/><rect x="8" y="3.4" width="3.4" height="2.8" rx="0.6" fill="#fff" stroke="#151515" stroke-width="0.9"/><path d="M6.4 6.6H8.6L7.5 9Z" fill="#111"/></g></svg>
<div class="wt" style="left:289px;top:250px;color:#8e8e8e;line-height:16px;font-size:11px">non-metric MDS</div>
</div>
<div class="a" style="left:0;top:0;z-index:3">
<div class="a" style="left:780px;top:510px;width:642px;height:386px;border:1px solid #5f5f5f;border-radius:7px 7px 0 0;background:#d7e4f2;overflow:hidden"><div class="a" style="left:0;top:0;right:0;height:28px;background:linear-gradient(#bccadb 0px,#c4d2e2 10px,#d0ddec 20px,#d7e4f2 27px)"></div><div class="a" style="left:0;top:0;right:0;bottom:0;border:1px solid rgba(255,255,255,0.75);border-radius:6px 6px 0 0"></div></div>
<div class="a" style="left:788px;top:539px;width:626px;height:349px;background:#fff;overflow:hidden"><div class="a" style="left:-788px;top:-539px;width:1500px;height:921px"><svg class="a" style="left:0;top:0" width="1500" height="921"><text x="1101" y="554" text-anchor="middle" font-family="Liberation Sans" font-style="italic" font-size="15" fill="#1a1aff">Frierfjord macrofauna abundances (6 sites x 4 replicates)</text><defs><linearGradient id="csg" x1="0" y1="0" x2="0" y2="1"><stop offset="0" stop-color="#000"/><stop offset="0.1" stop-color="#5a0000"/><stop offset="0.22" stop-color="#e00000"/><stop offset="0.3" stop-color="#ff6000"/><stop offset="0.38" stop-color="#ffe000"/><stop offset="0.5" stop-color="#00f000"/><stop offset="0.6" stop-color="#00f0ff"/><stop offset="0.7" stop-color="#0050ff"/><stop offset="0.78" stop-color="#1010ff"/><stop offset="0.9" stop-color="#8080ff"/><stop offset="1" stop-color="#f4f4ff"/></linearGradient></defs><rect x="792.5" y="558.5" width="33" height="153" fill="#fff" stroke="#000"/><rect x="812.5" y="565.5" width="10" height="140" fill="url(#csg)" stroke="#000" stroke-width="0.8"/><path d="M810 565.5H812.5" stroke="#000"/><text x="809" y="569.5" text-anchor="end" font-family="Liberation Sans" font-size="11" fill="#000">5</text><path d="M810 635.5H812.5" stroke="#000"/><text x="809" y="639.5" text-anchor="end" font-family="Liberation Sans" font-size="11" fill="#000">2.5</text><path d="M810 705.5H812.5" stroke="#000"/><text x="809" y="709.5" text-anchor="end" font-family="Liberation Sans" font-size="11" fill="#000">0</text><rect x="1156.8" y="589.50" width="18.9" height="4.84" fill="#0a12f6"/><rect x="1175.4" y="589.50" width="18.9" height="4.84" fill="#1480ff"/><rect x="1194.0" y="589.50" width="18.9" height="4.84" fill="#3535ff"/><rect x="1212.6" y="589.50" width="18.9" height="4.84" fill="#3535ff"/><rect x="1231.2" y="589.50" width="18.9" height="4.84" fill="#10aaff"/><rect x="1249.8" y="589.50" width="18.9" height="4.84" fill="#10aaff"/><rect x="1268.4" y="589.50" width="18.9" height="4.84" fill="#00f0a8"/><rect x="1287.0" y="589.50" width="18.9" height="4.84" fill="#1480ff"/><rect x="989.4" y="594.04" width="18.9" height="6.24" fill="#3535ff"/><rect x="1045.2" y="594.04" width="18.9" height="6.24" fill="#3535ff"/><rect x="1063.8" y="594.04" width="18.9" height="6.24" fill="#3535ff"/><rect x="1119.6" y="594.04" width="18.9" height="6.24" fill="#3535ff"/><rect x="1156.8" y="594.04" width="18.9" height="6.24" fill="#0a48fc"/><rect x="1175.4" y="594.04" width="18.9" height="6.24" fill="#10aaff"/><rect x="1194.0" y="594.04" width="18.9" height="6.24" fill="#1480ff"/><rect x="1231.2" y="594.04" width="18.9" height="6.24" fill="#00fcff"/><rect x="1249.8" y="594.04" width="18.9" height="6.24" fill="#00d6ff"/><rect x="1268.4" y="594.04" width="18.9" height="6.24" fill="#00f4d8"/><rect x="1287.0" y="594.04" width="18.9" height="6.24" fill="#00d6ff"/><rect x="1324.2" y="594.04" width="18.9" height="6.24" fill="#0a12f6"/><rect x="1342.8" y="594.04" width="18.9" height="6.24" fill="#0a12f6"/><rect x="1361.4" y="594.04" width="18.9" height="6.24" fill="#0a48fc"/><rect x="1194.0" y="599.98" width="18.9" height="6.24" fill="#3535ff"/><rect x="1212.6" y="599.98" width="18.9" height="6.24" fill="#0a12f6"/><rect x="1249.8" y="599.98" width="18.9" height="6.24" fill="#00f4d8"/><rect x="1268.4" y="599.98" width="18.9" height="6.24" fill="#00d6ff"/><rect x="1287.0" y="599.98" width="18.9" height="6.24" fill="#00fcff"/><rect x="952.2" y="605.92" width="18.9" height="6.24" fill="#3535ff"/><rect x="970.8" y="605.92" width="18.9" height="6.24" fill="#0a12f6"/><rect x="989.4" y="605.92" width="18.9" height="6.24" fill="#0a48fc"/><rect x="1063.8" y="605.92" width="18.9" height="6.24" fill="#3535ff"/><rect x="1082.4" y="605.92" width="18.9" height="6.24" fill="#0a12f6"/><rect x="1138.2" y="605.92" width="18.9" height="6.24" fill="#3535ff"/><rect x="1231.2" y="605.92" width="18.9" height="6.24" fill="#10f020"/><rect x="1249.8" y="605.92" width="18.9" height="6.24" fill="#b4f400"/><rect x="1268.4" y="605.92" width="18.9" height="6.24" fill="#b4f400"/><rect x="1287.0" y="605.92" width="18.9" height="6.24" fill="#f4f800"/><rect x="1305.6" y="605.92" width="18.9" height="6.24" fill="#3535ff"/><rect x="1324.2" y="605.92" width="18.9" height="6.24" fill="#0a12f6"/><rect x="1342.8" y="605.92" width="18.9" height="6.24" fill="#0a12f6"/><rect x="1361.4" y="605.92" width="18.9" height="6.24" fill="#0a12f6"/><rect x="933.6" y="611.86" width="18.9" height="6.24" fill="#3535ff"/><rect x="1231.2" y="611.86" width="18.9" height="6.24" fill="#b4f400"/><rect x="1249.8" y="611.86" width="18.9" height="6.24" fill="#ff9c00"/><rect x="1268.4" y="611.86" width="18.9" height="6.24" fill="#ffd400"/><rect x="1287.0" y="611.86" width="18.9" height="6.24" fill="#b4f400"/><rect x="1305.6" y="611.86" width="18.9" height="6.24" fill="#10aaff"/><rect x="1324.2" y="611.86" width="18.9" height="6.24" fill="#10aaff"/><rect x="1342.8" y="611.86" width="18.9" height="6.24" fill="#00f0a8"/><rect x="1361.4" y="611.86" width="18.9" height="6.24" fill="#0a12f6"/><rect x="1175.4" y="617.80" width="18.9" height="6.24" fill="#3535ff"/><rect x="1231.2" y="617.80" width="18.9" height="6.24" fill="#ff9c00"/><rect x="1249.8" y="617.80" width="18.9" height="6.24" fill="#ff4c00"/><rect x="1268.4" y="617.80" width="18.9" height="6.24" fill="#ff4c00"/><rect x="1287.0" y="617.80" width="18.9" height="6.24" fill="#ff9c00"/><rect x="1324.2" y="617.80" width="18.9" height="6.24" fill="#3535ff"/><rect x="952.2" y="623.74" width="18.9" height="6.24" fill="#0a12f6"/><rect x="1231.2" y="623.74" width="18.9" height="6.24" fill="#3535ff"/><rect x="1249.8" y="623.74" width="18.9" height="6.24" fill="#1480ff"/><rect x="1268.4" y="623.74" width="18.9" height="6.24" fill="#0a48fc"/><rect x="1287.0" y="623.74" width="18.9" height="6.24" fill="#1480ff"/><rect x="1305.6" y="623.74" width="18.9" height="6.24" fill="#3535ff"/><rect x="1342.8" y="623.74" width="18.9" height="6.24" fill="#3535ff"/><rect x="1361.4" y="623.74" width="18.9" height="6.24" fill="#3535ff"/><rect x="1249.8" y="629.68" width="18.9" height="6.24" fill="#0a12f6"/><rect x="1287.0" y="629.68" width="18.9" height="6.24" fill="#3535ff"/><rect x="1305.6" y="629.68" width="18.9" height="6.24" fill="#1480ff"/><rect x="1324.2" y="629.68" width="18.9" height="6.24" fill="#0a12f6"/><rect x="1342.8" y="629.68" width="18.9" height="6.24" fill="#0a48fc"/><rect x="1361.4" y="629.68" width="18.9" height="6.24" fill="#3535ff"/><rect x="1231.2" y="635.62" width="18.9" height="6.24" fill="#3535ff"/><rect x="1287.0" y="635.62" width="18.9" height="6.24" fill="#3535ff"/><rect x="1305.6" y="635.62" width="18.9" height="6.24" fill="#10aaff"/><rect x="1324.2" y="635.62" width="18.9" height="6.24" fill="#10aaff"/><rect x="1342.8" y="635.62" width="18.9" height="6.24" fill="#0a48fc"/><rect x="1361.4" y="635.62" width="18.9" height="6.24" fill="#1480ff"/><rect x="1101.0" y="641.56" width="18.9" height="6.24" fill="#3535ff"/><rect x="1119.6" y="641.56" width="18.9" height="6.24" fill="#3535ff"/><rect x="1231.2" y="641.56" width="18.9" height="6.24" fill="#0a48fc"/><rect x="1249.8" y="641.56" width="18.9" height="6.24" fill="#3535ff"/><rect x="1268.4" y="641.56" width="18.9" height="6.24" fill="#0a12f6"/><rect x="1305.6" y="641.56" width="18.9" height="6.24" fill="#3535ff"/><rect x="1324.2" y="641.56" width="18.9" height="6.24" fill="#0a12f6"/><rect x="1342.8" y="641.56" width="18.9" height="6.24" fill="#0a48fc"/><rect x="1361.4" y="641.56" width="18.9" height="6.24" fill="#0a48fc"/><rect x="933.6" y="647.50" width="18.9" height="6.24" fill="#1480ff"/><rect x="952.2" y="647.50" width="18.9" height="6.24" fill="#3535ff"/><rect x="970.8" y="647.50" width="18.9" height="6.24" fill="#00fcff"/><rect x="989.4" y="647.50" width="18.9" height="6.24" fill="#10aaff"/><rect x="1045.2" y="647.50" width="18.9" height="6.24" fill="#0a12f6"/><rect x="1101.0" y="647.50" width="18.9" height="6.24" fill="#0a12f6"/><rect x="1119.6" y="647.50" width="18.9" height="6.24" fill="#10aaff"/><rect x="1138.2" y="647.50" width="18.9" height="6.24" fill="#0a12f6"/><rect x="1156.8" y="647.50" width="18.9" height="6.24" fill="#3535ff"/><rect x="1175.4" y="647.50" width="18.9" height="6.24" fill="#00fcff"/><rect x="1194.0" y="647.50" width="18.9" height="6.24" fill="#0a12f6"/><rect x="1212.6" y="647.50" width="18.9" height="6.24" fill="#0a48fc"/><rect x="1231.2" y="647.50" width="18.9" height="6.24" fill="#b4f400"/><rect x="1249.8" y="647.50" width="18.9" height="6.24" fill="#f4f800"/><rect x="1268.4" y="647.50" width="18.9" height="6.24" fill="#ffd400"/><rect x="1287.0" y="647.50" width="18.9" height="6.24" fill="#b4f400"/><rect x="1305.6" y="647.50" width="18.9" height="6.24" fill="#10f020"/><rect x="1324.2" y="647.50" width="18.9" height="6.24" fill="#b4f400"/><rect x="1342.8" y="647.50" width="18.9" height="6.24" fill="#b4f400"/><rect x="1361.4" y="647.50" width="18.9" height="6.24" fill="#60f010"/><rect x="1231.2" y="653.44" width="18.9" height="6.24" fill="#1480ff"/><rect x="1249.8" y="653.44" width="18.9" height="6.24" fill="#10aaff"/><rect x="1268.4" y="653.44" width="18.9" height="6.24" fill="#1480ff"/><rect x="1287.0" y="653.44" width="18.9" height="6.24" fill="#1480ff"/><rect x="1305.6" y="653.44" width="18.9" height="6.24" fill="#1480ff"/><rect x="1324.2" y="653.44" width="18.9" height="6.24" fill="#1480ff"/><rect x="1342.8" y="653.44" width="18.9" height="6.24" fill="#1480ff"/><rect x="1361.4" y="653.44" width="18.9" height="6.24" fill="#0a48fc"/><rect x="970.8" y="659.38" width="18.9" height="6.24" fill="#3535ff"/><rect x="1212.6" y="659.38" width="18.9" height="6.24" fill="#3535ff"/><rect x="1231.2" y="659.38" width="18.9" height="6.24" fill="#00d6ff"/><rect x="1249.8" y="659.38" width="18.9" height="6.24" fill="#00f0a8"/><rect x="1268.4" y="659.38" width="18.9" height="6.24" fill="#00f068"/><rect x="1287.0" y="659.38" width="18.9" height="6.24" fill="#00f4d8"/><rect x="1305.6" y="659.38" width="18.9" height="6.24" fill="#0a48fc"/><rect x="1324.2" y="659.38" width="18.9" height="6.24" fill="#10f020"/><rect x="1342.8" y="659.38" width="18.9" height="6.24" fill="#10f020"/><rect x="1361.4" y="659.38" width="18.9" height="6.24" fill="#00fcff"/><rect x="1008.0" y="665.32" width="18.9" height="6.24" fill="#3535ff"/><rect x="1026.6" y="665.32" width="18.9" height="6.24" fill="#3535ff"/><rect x="1082.4" y="665.32" width="18.9" height="6.24" fill="#0a12f6"/><rect x="1101.0" y="665.32" width="18.9" height="6.24" fill="#0a48fc"/><rect x="1138.2" y="665.32" width="18.9" height="6.24" fill="#3535ff"/><rect x="1156.8" y="665.32" width="18.9" height="6.24" fill="#3535ff"/><rect x="1231.2" y="665.32" width="18.9" height="6.24" fill="#3535ff"/><rect x="1249.8" y="665.32" width="18.9" height="6.24" fill="#3535ff"/><rect x="1287.0" y="665.32" width="18.9" height="6.24" fill="#0a12f6"/><rect x="1305.6" y="665.32" width="18.9" height="6.24" fill="#0a48fc"/><rect x="1324.2" y="665.32" width="18.9" height="6.24" fill="#0a12f6"/><rect x="1342.8" y="665.32" width="18.9" height="6.24" fill="#0a12f6"/><rect x="1361.4" y="665.32" width="18.9" height="6.24" fill="#0a12f6"/><rect x="970.8" y="671.26" width="18.9" height="6.24" fill="#3535ff"/><rect x="989.4" y="671.26" width="18.9" height="6.24" fill="#3535ff"/><rect x="1101.0" y="671.26" width="18.9" height="6.24" fill="#0a12f6"/><rect x="1138.2" y="671.26" width="18.9" height="6.24" fill="#0a48fc"/><rect x="1175.4" y="671.26" width="18.9" height="6.24" fill="#0a12f6"/><rect x="1212.6" y="671.26" width="18.9" height="6.24" fill="#0a12f6"/><rect x="1249.8" y="671.26" width="18.9" height="6.24" fill="#3535ff"/><rect x="1287.0" y="671.26" width="18.9" height="6.24" fill="#0a48fc"/><rect x="1324.2" y="671.26" width="18.9" height="6.24" fill="#3535ff"/><rect x="1175.4" y="677.20" width="18.9" height="6.24" fill="#1480ff"/><rect x="1212.6" y="677.20" width="18.9" height="6.24" fill="#0a12f6"/><rect x="1249.8" y="677.20" width="18.9" height="6.24" fill="#3535ff"/><rect x="989.4" y="683.14" width="18.9" height="6.24" fill="#3535ff"/><rect x="1045.2" y="683.14" width="18.9" height="6.24" fill="#3535ff"/><rect x="1063.8" y="683.14" width="18.9" height="6.24" fill="#3535ff"/><rect x="1119.6" y="683.14" width="18.9" height="6.24" fill="#0a48fc"/><rect x="1138.2" y="683.14" width="18.9" height="6.24" fill="#0a12f6"/><rect x="1156.8" y="683.14" width="18.9" height="6.24" fill="#3535ff"/><rect x="1175.4" y="683.14" width="18.9" height="6.24" fill="#0a12f6"/><rect x="1194.0" y="683.14" width="18.9" height="6.24" fill="#0a12f6"/><rect x="1212.6" y="683.14" width="18.9" height="6.24" fill="#0a12f6"/><rect x="1231.2" y="683.14" width="18.9" height="6.24" fill="#3535ff"/><rect x="1249.8" y="683.14" width="18.9" height="6.24" fill="#0a12f6"/><rect x="1268.4" y="683.14" width="18.9" height="6.24" fill="#0a12f6"/><rect x="1305.6" y="683.14" width="18.9" height="6.24" fill="#3535ff"/><rect x="1324.2" y="683.14" width="18.9" height="6.24" fill="#0a12f6"/><rect x="1361.4" y="683.14" width="18.9" height="6.24" fill="#0a12f6"/><rect x="1045.2" y="689.08" width="18.9" height="6.24" fill="#3535ff"/><rect x="1138.2" y="689.08" width="18.9" height="6.24" fill="#3535ff"/><rect x="1175.4" y="689.08" width="18.9" height="6.24" fill="#3535ff"/><rect x="1194.0" y="689.08" width="18.9" height="6.24" fill="#0a12f6"/><rect x="1212.6" y="689.08" width="18.9" height="6.24" fill="#3535ff"/><rect x="1231.2" y="689.08" width="18.9" height="6.24" fill="#3535ff"/><rect x="1268.4" y="689.08" width="18.9" height="6.24" fill="#0a12f6"/><rect x="1305.6" y="689.08" width="18.9" height="6.24" fill="#3535ff"/><rect x="1324.2" y="689.08" width="18.9" height="6.24" fill="#0a48fc"/><rect x="1361.4" y="689.08" width="18.9" height="6.24" fill="#0a12f6"/><rect x="1156.8" y="695.02" width="18.9" height="6.24" fill="#00fcff"/><rect x="1175.4" y="695.02" width="18.9" height="6.24" fill="#10aaff"/><rect x="1194.0" y="695.02" width="18.9" height="6.24" fill="#00d6ff"/><rect x="1212.6" y="695.02" width="18.9" height="6.24" fill="#00f0a8"/><rect x="1305.6" y="695.02" width="18.9" height="6.24" fill="#0a48fc"/><rect x="1324.2" y="695.02" width="18.9" height="6.24" fill="#1480ff"/><rect x="1342.8" y="695.02" width="18.9" height="6.24" fill="#0a12f6"/><rect x="1361.4" y="695.02" width="18.9" height="6.24" fill="#00fcff"/><rect x="1156.8" y="700.96" width="18.9" height="6.24" fill="#3535ff"/><rect x="1175.4" y="700.96" width="18.9" height="6.24" fill="#1480ff"/><rect x="1194.0" y="700.96" width="18.9" height="6.24" fill="#0a12f6"/><rect x="1231.2" y="700.96" width="18.9" height="6.24" fill="#3535ff"/><rect x="1268.4" y="700.96" width="18.9" height="6.24" fill="#0a12f6"/><rect x="933.6" y="706.90" width="18.9" height="6.24" fill="#3535ff"/><rect x="952.2" y="706.90" width="18.9" height="6.24" fill="#3535ff"/><rect x="970.8" y="706.90" width="18.9" height="6.24" fill="#0a12f6"/><rect x="989.4" y="706.90" width="18.9" height="6.24" fill="#3535ff"/><rect x="1008.0" y="706.90" width="18.9" height="6.24" fill="#3535ff"/><rect x="1026.6" y="706.90" width="18.9" height="6.24" fill="#3535ff"/><rect x="1138.2" y="706.90" width="18.9" height="6.24" fill="#3535ff"/><rect x="1156.8" y="706.90" width="18.9" height="6.24" fill="#0a12f6"/><rect x="1175.4" y="706.90" width="18.9" height="6.24" fill="#00fcff"/><rect x="1194.0" y="706.90" width="18.9" height="6.24" fill="#1480ff"/><rect x="1212.6" y="706.90" width="18.9" height="6.24" fill="#0a12f6"/><rect x="952.2" y="712.84" width="18.9" height="6.24" fill="#3535ff"/><rect x="970.8" y="712.84" width="18.9" height="6.24" fill="#0a48fc"/><rect x="1008.0" y="712.84" width="18.9" height="6.24" fill="#3535ff"/><rect x="1026.6" y="712.84" width="18.9" height="6.24" fill="#0a48fc"/><rect x="1045.2" y="712.84" width="18.9" height="6.24" fill="#0a48fc"/><rect x="1063.8" y="712.84" width="18.9" height="6.24" fill="#0a12f6"/><rect x="1082.4" y="712.84" width="18.9" height="6.24" fill="#0a12f6"/><rect x="1138.2" y="712.84" width="18.9" height="6.24" fill="#0a12f6"/><rect x="1156.8" y="712.84" width="18.9" height="6.24" fill="#00f0a8"/><rect x="1175.4" y="712.84" width="18.9" height="6.24" fill="#00f068"/><rect x="1194.0" y="712.84" width="18.9" height="6.24" fill="#10aaff"/><rect x="1212.6" y="712.84" width="18.9" height="6.24" fill="#0a48fc"/><rect x="1231.2" y="712.84" width="18.9" height="6.24" fill="#1480ff"/><rect x="1305.6" y="712.84" width="18.9" height="6.24" fill="#3535ff"/><rect x="1342.8" y="712.84" width="18.9" height="6.24" fill="#0a12f6"/><rect x="1101.0" y="718.78" width="18.9" height="6.24" fill="#1480ff"/><rect x="1156.8" y="718.78" width="18.9" height="6.24" fill="#0a12f6"/><rect x="1175.4" y="718.78" width="18.9" height="6.24" fill="#1480ff"/><rect x="1194.0" y="718.78" width="18.9" height="6.24" fill="#0a12f6"/><rect x="1082.4" y="724.72" width="18.9" height="6.24" fill="#3535ff"/><rect x="1101.0" y="724.72" width="18.9" height="6.24" fill="#1480ff"/><rect x="1119.6" y="724.72" width="18.9" height="6.24" fill="#1480ff"/><rect x="1138.2" y="724.72" width="18.9" height="6.24" fill="#0a12f6"/><rect x="1156.8" y="724.72" width="18.9" height="6.24" fill="#1480ff"/><rect x="1175.4" y="724.72" width="18.9" height="6.24" fill="#00fcff"/><rect x="1194.0" y="724.72" width="18.9" height="6.24" fill="#00f0a8"/><rect x="1212.6" y="724.72" width="18.9" height="6.24" fill="#0a48fc"/><rect x="1231.2" y="724.72" width="18.9" height="6.24" fill="#0a12f6"/><rect x="1249.8" y="724.72" width="18.9" height="6.24" fill="#3535ff"/><rect x="1268.4" y="724.72" width="18.9" height="6.24" fill="#0a48fc"/><rect x="1287.0" y="724.72" width="18.9" height="6.24" fill="#3535ff"/><rect x="1305.6" y="724.72" width="18.9" height="6.24" fill="#3535ff"/><rect x="1342.8" y="724.72" width="18.9" height="6.24" fill="#0a12f6"/><rect x="1156.8" y="730.66" width="18.9" height="6.24" fill="#0a48fc"/><rect x="1175.4" y="730.66" width="18.9" height="6.24" fill="#3535ff"/><rect x="1194.0" y="730.66" width="18.9" height="6.24" fill="#0a12f6"/><rect x="1212.6" y="730.66" width="18.9" height="6.24" fill="#3535ff"/><rect x="1156.8" y="736.60" width="18.9" height="6.24" fill="#10aaff"/><rect x="1175.4" y="736.60" width="18.9" height="6.24" fill="#10aaff"/><rect x="1194.0" y="736.60" width="18.9" height="6.24" fill="#10aaff"/><rect x="1212.6" y="736.60" width="18.9" height="6.24" fill="#3535ff"/><rect x="989.4" y="742.54" width="18.9" height="6.24" fill="#3535ff"/><rect x="1119.6" y="742.54" width="18.9" height="6.24" fill="#3535ff"/><rect x="1156.8" y="742.54" width="18.9" height="6.24" fill="#0a12f6"/><rect x="1175.4" y="742.54" width="18.9" height="6.24" fill="#0a12f6"/><rect x="1194.0" y="742.54" width="18.9" height="6.24" fill="#0a12f6"/><rect x="1212.6" y="742.54" width="18.9" height="6.24" fill="#0a12f6"/><rect x="1287.0" y="742.54" width="18.9" height="6.24" fill="#3535ff"/><rect x="933.6" y="748.48" width="18.9" height="6.24" fill="#0a12f6"/><rect x="952.2" y="748.48" width="18.9" height="6.24" fill="#1480ff"/><rect x="970.8" y="748.48" width="18.9" height="6.24" fill="#0a12f6"/><rect x="989.4" y="748.48" width="18.9" height="6.24" fill="#0a12f6"/><rect x="1008.0" y="748.48" width="18.9" height="6.24" fill="#3535ff"/><rect x="1063.8" y="748.48" width="18.9" height="6.24" fill="#1480ff"/><rect x="1082.4" y="748.48" width="18.9" height="6.24" fill="#0a12f6"/><rect x="1119.6" y="748.48" width="18.9" height="6.24" fill="#3535ff"/><rect x="1156.8" y="748.48" width="18.9" height="6.24" fill="#10aaff"/><rect x="1175.4" y="748.48" width="18.9" height="6.24" fill="#0a48fc"/><rect x="1194.0" y="748.48" width="18.9" height="6.24" fill="#00f0a8"/><rect x="1212.6" y="748.48" width="18.9" height="6.24" fill="#1480ff"/><rect x="1231.2" y="748.48" width="18.9" height="6.24" fill="#0a12f6"/><rect x="989.4" y="754.42" width="18.9" height="6.24" fill="#3535ff"/><rect x="1156.8" y="754.42" width="18.9" height="6.24" fill="#1480ff"/><rect x="1175.4" y="754.42" width="18.9" height="6.24" fill="#0a12f6"/><rect x="1194.0" y="754.42" width="18.9" height="6.24" fill="#0a48fc"/><rect x="1212.6" y="754.42" width="18.9" height="6.24" fill="#0a12f6"/><rect x="1231.2" y="754.42" width="18.9" height="6.24" fill="#0a48fc"/><rect x="1249.8" y="754.42" width="18.9" height="6.24" fill="#3535ff"/><rect x="1268.4" y="754.42" width="18.9" height="6.24" fill="#0a12f6"/><rect x="1361.4" y="754.42" width="18.9" height="6.24" fill="#3535ff"/><rect x="989.4" y="760.36" width="18.9" height="6.24" fill="#0a12f6"/><rect x="1138.2" y="760.36" width="18.9" height="6.24" fill="#3535ff"/><rect x="1156.8" y="760.36" width="18.9" height="6.24" fill="#1480ff"/><rect x="1342.8" y="760.36" width="18.9" height="6.24" fill="#3535ff"/><rect x="1361.4" y="760.36" width="18.9" height="6.24" fill="#3535ff"/><rect x="1156.8" y="766.30" width="18.9" height="6.24" fill="#0a12f6"/><rect x="933.6" y="772.24" width="18.9" height="6.24" fill="#0a12f6"/><rect x="1026.6" y="772.24" width="18.9" height="6.24" fill="#3535ff"/><rect x="1138.2" y="772.24" width="18.9" height="6.24" fill="#3535ff"/><rect x="1212.6" y="772.24" width="18.9" height="6.24" fill="#3535ff"/><rect x="952.2" y="778.18" width="18.9" height="6.24" fill="#3535ff"/><rect x="970.8" y="778.18" width="18.9" height="6.24" fill="#3535ff"/><rect x="989.4" y="778.18" width="18.9" height="6.24" fill="#0a12f6"/><rect x="1082.4" y="778.18" width="18.9" height="6.24" fill="#0a12f6"/><rect x="1101.0" y="778.18" width="18.9" height="6.24" fill="#00f0a8"/><rect x="1119.6" y="778.18" width="18.9" height="6.24" fill="#0a12f6"/><rect x="1138.2" y="778.18" width="18.9" height="6.24" fill="#0a48fc"/><rect x="970.8" y="784.12" width="18.9" height="6.24" fill="#1480ff"/><rect x="989.4" y="784.12" width="18.9" height="6.24" fill="#0a48fc"/><rect x="1008.0" y="784.12" width="18.9" height="6.24" fill="#3535ff"/><rect x="1026.6" y="784.12" width="18.9" height="6.24" fill="#0a12f6"/><rect x="1045.2" y="784.12" width="18.9" height="6.24" fill="#00f0a8"/><rect x="1063.8" y="784.12" width="18.9" height="6.24" fill="#1480ff"/><rect x="1082.4" y="784.12" width="18.9" height="6.24" fill="#0a12f6"/><rect x="1101.0" y="784.12" width="18.9" height="6.24" fill="#00d6ff"/><rect x="1119.6" y="784.12" width="18.9" height="6.24" fill="#00f4d8"/><rect x="1138.2" y="784.12" width="18.9" height="6.24" fill="#0a48fc"/><rect x="1156.8" y="784.12" width="18.9" height="6.24" fill="#0a12f6"/><rect x="1175.4" y="784.12" width="18.9" height="6.24" fill="#0a48fc"/><rect x="1194.0" y="784.12" width="18.9" height="6.24" fill="#1480ff"/><rect x="1212.6" y="784.12" width="18.9" height="6.24" fill="#0a12f6"/><rect x="1231.2" y="784.12" width="18.9" height="6.24" fill="#00d6ff"/><rect x="1249.8" y="784.12" width="18.9" height="6.24" fill="#00fcff"/><rect x="1268.4" y="784.12" width="18.9" height="6.24" fill="#00f4d8"/><rect x="1287.0" y="784.12" width="18.9" height="6.24" fill="#00f0a8"/><rect x="1305.6" y="784.12" width="18.9" height="6.24" fill="#1480ff"/><rect x="1324.2" y="784.12" width="18.9" height="6.24" fill="#1480ff"/><rect x="1342.8" y="784.12" width="18.9" height="6.24" fill="#0a48fc"/><rect x="933.6" y="790.06" width="18.9" height="6.24" fill="#0a12f6"/><rect x="970.8" y="790.06" width="18.9" height="6.24" fill="#0a48fc"/><rect x="1026.6" y="790.06" width="18.9" height="6.24" fill="#00f4d8"/><rect x="1045.2" y="790.06" width="18.9" height="6.24" fill="#00fcff"/><rect x="1063.8" y="790.06" width="18.9" height="6.24" fill="#00fcff"/><rect x="1082.4" y="790.06" width="18.9" height="6.24" fill="#1480ff"/><rect x="1101.0" y="790.06" width="18.9" height="6.24" fill="#10aaff"/><rect x="1119.6" y="790.06" width="18.9" height="6.24" fill="#10f020"/><rect x="1138.2" y="790.06" width="18.9" height="6.24" fill="#00f0a8"/><rect x="1156.8" y="790.06" width="18.9" height="6.24" fill="#00fcff"/><rect x="1175.4" y="790.06" width="18.9" height="6.24" fill="#1480ff"/><rect x="1194.0" y="790.06" width="18.9" height="6.24" fill="#10aaff"/><rect x="1212.6" y="790.06" width="18.9" height="6.24" fill="#1480ff"/><rect x="1231.2" y="790.06" width="18.9" height="6.24" fill="#00d6ff"/><rect x="1249.8" y="790.06" width="18.9" height="6.24" fill="#0a48fc"/><rect x="1268.4" y="790.06" width="18.9" height="6.24" fill="#3535ff"/><rect x="1287.0" y="790.06" width="18.9" height="6.24" fill="#3535ff"/><rect x="1305.6" y="790.06" width="18.9" height="6.24" fill="#0a12f6"/><rect x="1324.2" y="790.06" width="18.9" height="6.24" fill="#0a12f6"/><rect x="1361.4" y="790.06" width="18.9" height="6.24" fill="#0a12f6"/><rect x="952.2" y="796.00" width="18.9" height="6.24" fill="#3535ff"/><rect x="989.4" y="796.00" width="18.9" height="6.24" fill="#3535ff"/><rect x="1008.0" y="796.00" width="18.9" height="6.24" fill="#0a12f6"/><rect x="1026.6" y="796.00" width="18.9" height="6.24" fill="#00f0a8"/><rect x="1045.2" y="796.00" width="18.9" height="6.24" fill="#10f020"/><rect x="1063.8" y="796.00" width="18.9" height="6.24" fill="#10f020"/><rect x="1082.4" y="796.00" width="18.9" height="6.24" fill="#00d6ff"/><rect x="1101.0" y="796.00" width="18.9" height="6.24" fill="#00f0a8"/><rect x="1119.6" y="796.00" width="18.9" height="6.24" fill="#b4f400"/><rect x="1138.2" y="796.00" width="18.9" height="6.24" fill="#10f020"/><rect x="1156.8" y="796.00" width="18.9" height="6.24" fill="#0a12f6"/><rect x="1175.4" y="796.00" width="18.9" height="6.24" fill="#3535ff"/><rect x="1194.0" y="796.00" width="18.9" height="6.24" fill="#3535ff"/><rect x="1212.6" y="796.00" width="18.9" height="6.24" fill="#3535ff"/><rect x="1231.2" y="796.00" width="18.9" height="6.24" fill="#00f4d8"/><rect x="1249.8" y="796.00" width="18.9" height="6.24" fill="#00fcff"/><rect x="1268.4" y="796.00" width="18.9" height="6.24" fill="#00fcff"/><rect x="1287.0" y="796.00" width="18.9" height="6.24" fill="#00f068"/><rect x="1305.6" y="796.00" width="18.9" height="6.24" fill="#00f068"/><rect x="1324.2" y="796.00" width="18.9" height="6.24" fill="#00f0a8"/><rect x="1342.8" y="796.00" width="18.9" height="6.24" fill="#10f020"/><rect x="1361.4" y="796.00" width="18.9" height="6.24" fill="#10f020"/><rect x="933.6" y="801.94" width="18.9" height="6.24" fill="#0a12f6"/><rect x="970.8" y="801.94" width="18.9" height="6.24" fill="#0a48fc"/><rect x="989.4" y="801.94" width="18.9" height="6.24" fill="#00f0a8"/><rect x="1026.6" y="801.94" width="18.9" height="6.24" fill="#0a12f6"/><rect x="1045.2" y="801.94" width="18.9" height="6.24" fill="#ff4c00"/><rect x="1063.8" y="801.94" width="18.9" height="6.24" fill="#00f0a8"/><rect x="1082.4" y="801.94" width="18.9" height="6.24" fill="#10f020"/><rect x="1101.0" y="801.94" width="18.9" height="6.24" fill="#10f020"/><rect x="1119.6" y="801.94" width="18.9" height="6.24" fill="#60f010"/><rect x="1138.2" y="801.94" width="18.9" height="6.24" fill="#10f020"/><rect x="1156.8" y="801.94" width="18.9" height="6.24" fill="#3535ff"/><rect x="1175.4" y="801.94" width="18.9" height="6.24" fill="#3535ff"/><rect x="933.6" y="807.88" width="18.9" height="6.24" fill="#0a12f6"/><rect x="952.2" y="807.88" width="18.9" height="6.24" fill="#3535ff"/><rect x="970.8" y="807.88" width="18.9" height="6.24" fill="#0a12f6"/><rect x="989.4" y="807.88" width="18.9" height="6.24" fill="#0a12f6"/><rect x="1008.0" y="807.88" width="18.9" height="6.24" fill="#0a48fc"/><rect x="1026.6" y="807.88" width="18.9" height="6.24" fill="#00fcff"/><rect x="1045.2" y="807.88" width="18.9" height="6.24" fill="#00fcff"/><rect x="1063.8" y="807.88" width="18.9" height="6.24" fill="#00fcff"/><rect x="1082.4" y="807.88" width="18.9" height="6.24" fill="#0a48fc"/><rect x="1101.0" y="807.88" width="18.9" height="6.24" fill="#0a12f6"/><rect x="1119.6" y="807.88" width="18.9" height="6.24" fill="#00d6ff"/><rect x="1138.2" y="807.88" width="18.9" height="6.24" fill="#00fcff"/><rect x="1175.4" y="807.88" width="18.9" height="6.24" fill="#3535ff"/><rect x="952.2" y="813.82" width="18.9" height="6.24" fill="#1480ff"/><rect x="970.8" y="813.82" width="18.9" height="6.24" fill="#3535ff"/><rect x="989.4" y="813.82" width="18.9" height="6.24" fill="#00fcff"/><rect x="1008.0" y="813.82" width="18.9" height="6.24" fill="#0a12f6"/><rect x="1026.6" y="813.82" width="18.9" height="6.24" fill="#10f020"/><rect x="1045.2" y="813.82" width="18.9" height="6.24" fill="#b4f400"/><rect x="1063.8" y="813.82" width="18.9" height="6.24" fill="#10f020"/><rect x="1082.4" y="813.82" width="18.9" height="6.24" fill="#00fcff"/><rect x="1101.0" y="813.82" width="18.9" height="6.24" fill="#10f020"/><rect x="1119.6" y="813.82" width="18.9" height="6.24" fill="#00f0a8"/><rect x="1138.2" y="813.82" width="18.9" height="6.24" fill="#00d6ff"/><rect x="1194.0" y="813.82" width="18.9" height="6.24" fill="#3535ff"/><rect x="933.6" y="819.76" width="18.9" height="6.24" fill="#1480ff"/><rect x="952.2" y="819.76" width="18.9" height="6.24" fill="#60f010"/><rect x="970.8" y="819.76" width="18.9" height="6.24" fill="#ff9c00"/><rect x="989.4" y="819.76" width="18.9" height="6.24" fill="#ff9c00"/><rect x="1008.0" y="819.76" width="18.9" height="6.24" fill="#00f0a8"/><rect x="1026.6" y="819.76" width="18.9" height="6.24" fill="#ff1400"/><rect x="1045.2" y="819.76" width="18.9" height="6.24" fill="#3c0000"/><rect x="1063.8" y="819.76" width="18.9" height="6.24" fill="#b00000"/><rect x="1082.4" y="819.76" width="18.9" height="6.24" fill="#ff1400"/><rect x="1101.0" y="819.76" width="18.9" height="6.24" fill="#b00000"/><rect x="1119.6" y="819.76" width="18.9" height="6.24" fill="#b00000"/><rect x="1138.2" y="819.76" width="18.9" height="6.24" fill="#ff1400"/><rect x="1156.8" y="819.76" width="18.9" height="6.24" fill="#10f020"/><rect x="1175.4" y="819.76" width="18.9" height="6.24" fill="#0a48fc"/><rect x="1194.0" y="819.76" width="18.9" height="6.24" fill="#1480ff"/><rect x="1212.6" y="819.76" width="18.9" height="6.24" fill="#10f020"/><rect x="1249.8" y="819.76" width="18.9" height="6.24" fill="#3535ff"/><rect x="1342.8" y="819.76" width="18.9" height="6.24" fill="#3535ff"/><rect x="933.6" y="825.70" width="18.9" height="6.24" fill="#3535ff"/><rect x="970.8" y="825.70" width="18.9" height="6.24" fill="#3535ff"/><rect x="989.4" y="825.70" width="18.9" height="6.24" fill="#3535ff"/><rect x="1045.2" y="825.70" width="18.9" height="6.24" fill="#1480ff"/><rect x="1063.8" y="825.70" width="18.9" height="6.24" fill="#3535ff"/><rect x="1101.0" y="825.70" width="18.9" height="6.24" fill="#0a12f6"/><rect x="1119.6" y="825.70" width="18.9" height="6.24" fill="#10f020"/><rect x="1138.2" y="825.70" width="18.9" height="6.24" fill="#00f0a8"/><rect x="1175.4" y="825.70" width="18.9" height="6.24" fill="#0a12f6"/><rect x="933.6" y="831.64" width="18.9" height="6.24" fill="#1480ff"/><rect x="952.2" y="831.64" width="18.9" height="6.24" fill="#0a12f6"/><rect x="970.8" y="831.64" width="18.9" height="6.24" fill="#00f0a8"/><rect x="989.4" y="831.64" width="18.9" height="6.24" fill="#00fcff"/><rect x="1008.0" y="831.64" width="18.9" height="6.24" fill="#3535ff"/><rect x="1026.6" y="831.64" width="18.9" height="6.24" fill="#1480ff"/><rect x="1063.8" y="831.64" width="18.9" height="6.24" fill="#0a12f6"/><rect x="1082.4" y="831.64" width="18.9" height="6.24" fill="#1480ff"/><rect x="1101.0" y="831.64" width="18.9" height="6.24" fill="#3535ff"/><rect x="1119.6" y="831.64" width="18.9" height="6.24" fill="#1480ff"/><rect x="1138.2" y="831.64" width="18.9" height="6.24" fill="#0a48fc"/><rect x="1156.8" y="831.64" width="18.9" height="6.24" fill="#0a48fc"/><rect x="1175.4" y="831.64" width="18.9" height="6.24" fill="#0a12f6"/><rect x="1194.0" y="831.64" width="18.9" height="6.24" fill="#3535ff"/><rect x="1212.6" y="831.64" width="18.9" height="6.24" fill="#0a12f6"/><rect x="933.6" y="837.58" width="18.9" height="6.24" fill="#00f4d8"/><rect x="952.2" y="837.58" width="18.9" height="6.24" fill="#0a12f6"/><rect x="970.8" y="837.58" width="18.9" height="6.24" fill="#00f068"/><rect x="989.4" y="837.58" width="18.9" height="6.24" fill="#00d6ff"/><rect x="1008.0" y="837.58" width="18.9" height="6.24" fill="#1480ff"/><rect x="1045.2" y="837.58" width="18.9" height="6.24" fill="#00d6ff"/><rect x="1082.4" y="837.58" width="18.9" height="6.24" fill="#00d6ff"/><rect x="1119.6" y="837.58" width="18.9" height="6.24" fill="#1480ff"/><rect x="1138.2" y="837.58" width="18.9" height="6.24" fill="#10aaff"/><rect x="933.6" y="843.52" width="18.9" height="6.24" fill="#0a12f6"/><rect x="952.2" y="843.52" width="18.9" height="6.24" fill="#0a12f6"/><rect x="970.8" y="843.52" width="18.9" height="6.24" fill="#00d6ff"/><rect x="989.4" y="843.52" width="18.9" height="6.24" fill="#00f0a8"/><rect x="1026.6" y="843.52" width="18.9" height="6.24" fill="#1480ff"/><rect x="1045.2" y="843.52" width="18.9" height="6.24" fill="#00d6ff"/><rect x="1063.8" y="843.52" width="18.9" height="6.24" fill="#1480ff"/><rect x="1082.4" y="843.52" width="18.9" height="6.24" fill="#1480ff"/><rect x="1101.0" y="843.52" width="18.9" height="6.24" fill="#1480ff"/><rect x="1119.6" y="843.52" width="18.9" height="6.24" fill="#00f0a8"/><rect x="1138.2" y="843.52" width="18.9" height="6.24" fill="#1480ff"/><rect x="1156.8" y="843.52" width="18.9" height="6.24" fill="#3535ff"/><rect x="1175.4" y="843.52" width="18.9" height="6.24" fill="#3535ff"/><rect x="1231.2" y="843.52" width="18.9" height="6.24" fill="#1480ff"/><rect x="1249.8" y="843.52" width="18.9" height="6.24" fill="#0a12f6"/><rect x="933.6" y="849.46" width="18.9" height="6.24" fill="#00f4d8"/><rect x="952.2" y="849.46" width="18.9" height="6.24" fill="#1480ff"/><rect x="970.8" y="849.46" width="18.9" height="6.24" fill="#00d6ff"/><rect x="989.4" y="849.46" width="18.9" height="6.24" fill="#00f0a8"/><rect x="1008.0" y="849.46" width="18.9" height="6.24" fill="#3535ff"/><rect x="1026.6" y="849.46" width="18.9" height="6.24" fill="#0a12f6"/><rect x="1045.2" y="849.46" width="18.9" height="6.24" fill="#0a12f6"/><rect x="1082.4" y="849.46" width="18.9" height="6.24" fill="#0a48fc"/><rect x="1101.0" y="849.46" width="18.9" height="6.24" fill="#0a12f6"/><rect x="1119.6" y="849.46" width="18.9" height="6.24" fill="#00d6ff"/><rect x="1138.2" y="849.46" width="18.9" height="6.24" fill="#0a12f6"/><rect x="1156.8" y="849.46" width="18.9" height="6.24" fill="#3535ff"/><rect x="933.6" y="855.40" width="18.9" height="6.24" fill="#00fcff"/><rect x="952.2" y="855.40" width="18.9" height="6.24" fill="#0a12f6"/><rect x="970.8" y="855.40" width="18.9" height="6.24" fill="#0a48fc"/><rect x="989.4" y="855.40" width="18.9" height="6.24" fill="#00f0a8"/><rect x="1063.8" y="855.40" width="18.9" height="6.24" fill="#3535ff"/><rect x="1119.6" y="855.40" width="18.9" height="6.24" fill="#0a48fc"/><rect x="1138.2" y="855.40" width="18.9" height="6.24" fill="#0a12f6"/><rect x="1194.0" y="855.40" width="18.9" height="6.24" fill="#0a48fc"/><rect x="1305.6" y="855.40" width="18.9" height="6.24" fill="#3535ff"/><rect x="1324.2" y="855.40" width="18.9" height="6.24" fill="#1480ff"/><rect x="1361.4" y="855.40" width="18.9" height="6.24" fill="#3535ff"/><rect x="952.2" y="861.34" width="18.9" height="6.24" fill="#0a12f6"/><rect x="989.4" y="861.34" width="18.9" height="6.24" fill="#3535ff"/><rect x="1119.6" y="861.34" width="18.9" height="6.24" fill="#0a48fc"/><rect x="989.4" y="867.28" width="18.9" height="6.24" fill="#3535ff"/><rect x="1008.0" y="867.28" width="18.9" height="6.24" fill="#0a12f6"/><rect x="1026.6" y="867.28" width="18.9" height="6.24" fill="#3535ff"/><rect x="1045.2" y="867.28" width="18.9" height="6.24" fill="#3535ff"/><rect x="1063.8" y="867.28" width="18.9" height="6.24" fill="#3535ff"/><rect x="1008.0" y="873.22" width="18.9" height="6.24" fill="#3535ff"/><rect x="952.2" y="879.16" width="18.9" height="6.24" fill="#3535ff"/><rect x="1119.6" y="879.16" width="18.9" height="6.24" fill="#3535ff"/><rect x="1324.2" y="879.16" width="18.9" height="6.24" fill="#00d6ff"/><path d="M1008.0 589.5V885.2" stroke="#111" stroke-width="1.1"/><path d="M1082.4 589.5V885.2" stroke="#111" stroke-width="1.1"/><path d="M1156.8 589.5V885.2" stroke="#111" stroke-width="1.1"/><path d="M1231.2 589.5V885.2" stroke="#111" stroke-width="1.1"/><path d="M1305.6 589.5V885.2" stroke="#111" stroke-width="1.1"/><text transform="translate(946.9,575) rotate(-90)" font-family="Liberation Sans" font-size="11" fill="#000">D3</text><path d="M943.0 578.3L947.2 582.5L943.0 586.7L938.8 582.5Z" fill="#ff0000"/><text transform="translate(965.5,575) rotate(-90)" font-family="Liberation Sans" font-size="11" fill="#000">D1</text><path d="M961.5 578.3L965.7 582.5L961.5 586.7L957.3 582.5Z" fill="#ff0000"/><text transform="translate(984.1,575) rotate(-90)" font-family="Liberation Sans" font-size="11" fill="#000">D4</text><path d="M980.0 578.3L984.2 582.5L980.0 586.7L975.8 582.5Z" fill="#ff0000"/><text transform="translate(1002.7,575) rotate(-90)" font-family="Liberation Sans" font-size="11" fill="#000">D2</text><path d="M998.5 578.3L1002.7 582.5L998.5 586.7L994.3 582.5Z" fill="#ff0000"/><text transform="translate(1021.3,575) rotate(-90)" font-family="Liberation Sans" font-size="11" fill="#000">C1</text><rect x="1013.93" y="578.93" width="7.14" height="7.14" fill="#00ffff"/><text transform="translate(1039.9,575) rotate(-90)" font-family="Liberation Sans" font-size="11" fill="#000">C2</text><rect x="1032.43" y="578.93" width="7.14" height="7.14" fill="#00ffff"/><text transform="translate(1058.5,575) rotate(-90)" font-family="Liberation Sans" font-size="11" fill="#000">C4</text><rect x="1050.93" y="578.93" width="7.14" height="7.14" fill="#00ffff"/><text transform="translate(1077.1,575) rotate(-90)" font-family="Liberation Sans" font-size="11" fill="#000">C3</text><rect x="1069.43" y="578.93" width="7.14" height="7.14" fill="#00ffff"/><text transform="translate(1095.7,575) rotate(-90)" font-family="Liberation Sans" font-size="11" fill="#000">B2</text><path d="M1091.5 586.7L1096.12 579.35H1086.88Z" fill="#0000ff"/><text transform="translate(1114.3,575) rotate(-90)" font-family="Liberation Sans" font-size="11" fill="#000">B4</text><path d="M1110.5 586.7L1115.12 579.35H1105.88Z" fill="#0000ff"/><text transform="translate(1132.9,575) rotate(-90)" font-family="Liberation Sans" font-size="11" fill="#000">B1</text><path d="M1129.0 586.7L1133.62 579.35H1124.38Z" fill="#0000ff"/><text transform="translate(1151.5,575) rotate(-90)" font-family="Liberation Sans" font-size="11" fill="#000">B3</text><path d="M1147.5 586.7L1152.12 579.35H1142.88Z" fill="#0000ff"/><text transform="translate(1170.1,575) rotate(-90)" font-family="Liberation Sans" font-size="11" fill="#000">A1</text><path d="M1166.0 578.3L1170.62 585.65H1161.38Z" fill="#00ff00"/><text transform="translate(1188.7,575) rotate(-90)" font-family="Liberation Sans" font-size="11" fill="#000">A4</text><path d="M1184.5 578.3L1189.12 585.65H1179.88Z" fill="#00ff00"/><text transform="translate(1207.3,575) rotate(-90)" font-family="Liberation Sans" font-size="11" fill="#000">A3</text><path d="M1203.5 578.3L1208.12 585.65H1198.88Z" fill="#00ff00"/><text transform="translate(1225.9,575) rotate(-90)" font-family="Liberation Sans" font-size="11" fill="#000">A2</text><path d="M1222.0 578.3L1226.62 585.65H1217.38Z" fill="#00ff00"/><text transform="translate(1244.5,575) rotate(-90)" font-family="Liberation Sans" font-size="11" fill="#000">E1</text><circle cx="1240.5" cy="582.5" r="3.99" fill="#ff00ff"/><text transform="translate(1263.1,575) rotate(-90)" font-family="Liberation Sans" font-size="11" fill="#000">E3</text><circle cx="1259.0" cy="582.5" r="3.99" fill="#ff00ff"/><text transform="translate(1281.7,575) rotate(-90)" font-family="Liberation Sans" font-size="11" fill="#000">E2</text><circle cx="1277.5" cy="582.5" r="3.99" fill="#ff00ff"/><text transform="translate(1300.3,575) rotate(-90)" font-family="Liberation Sans" font-size="11" fill="#000">E4</text><circle cx="1296.5" cy="582.5" r="3.99" fill="#ff00ff"/><text transform="translate(1318.9,575) rotate(-90)" font-family="Liberation Sans" font-size="11" fill="#000">G4</text><path d="M1310.8 582.5H1319.2M1315.0 578.3V586.7" stroke="#808080" stroke-width="1.3"/><text transform="translate(1337.5,575) rotate(-90)" font-family="Liberation Sans" font-size="11" fill="#000">G1</text><path d="M1329.3 582.5H1337.7M1333.5 578.3V586.7" stroke="#808080" stroke-width="1.3"/><text transform="translate(1356.1,575) rotate(-90)" font-family="Liberation Sans" font-size="11" fill="#000">G2</text><path d="M1347.8 582.5H1356.2M1352.0 578.3V586.7" stroke="#808080" stroke-width="1.3"/><text transform="translate(1374.7,575) rotate(-90)" font-family="Liberation Sans" font-size="11" fill="#000">G3</text><path d="M1366.3 582.5H1374.7M1370.5 578.3V586.7" stroke="#808080" stroke-width="1.3"/><text x="931.5" y="592.9" text-anchor="end" font-family="Liberation Sans" font-weight="bold" font-size="4.6" fill="#000">Brada sp</text><text x="931.5" y="598.8" text-anchor="end" font-family="Liberation Sans" font-weight="bold" font-size="4.6" fill="#000">Goniada maculata</text><text x="931.5" y="604.8" text-anchor="end" font-family="Liberation Sans" font-weight="bold" font-size="4.6" fill="#000">Mysella bidentata</text><text x="931.5" y="610.7" text-anchor="end" font-family="Liberation Sans" font-weight="bold" font-size="4.6" fill="#000">Prionospio cirrifera</text><text x="931.5" y="616.6" text-anchor="end" font-family="Liberation Sans" font-weight="bold" font-size="4.6" fill="#000">Labidoplax buskii</text><text x="931.5" y="622.6" text-anchor="end" font-family="Liberation Sans" font-weight="bold" font-size="4.6" fill="#000">Amphiura filiformis</text><text x="931.5" y="628.5" text-anchor="end" font-family="Liberation Sans" font-weight="bold" font-size="4.6" fill="#000">Holothuroidea</text><text x="931.5" y="634.5" text-anchor="end" font-family="Liberation Sans" font-weight="bold" font-size="4.6" fill="#000">Pterigis papillosa</text><text x="931.5" y="640.4" text-anchor="end" font-family="Liberation Sans" font-weight="bold" font-size="4.6" fill="#000">Mediomastus fragilis</text><text x="931.5" y="646.3" text-anchor="end" font-family="Liberation Sans" font-weight="bold" font-size="4.6" fill="#000">Scoloplos armiger</text><text x="931.5" y="652.3" text-anchor="end" font-family="Liberation Sans" font-weight="bold" font-size="4.6" fill="#000">Thyasira sp</text><text x="931.5" y="658.2" text-anchor="end" font-family="Liberation Sans" font-weight="bold" font-size="4.6" fill="#000">Myrea spinifera</text><text x="931.5" y="664.1" text-anchor="end" font-family="Liberation Sans" font-weight="bold" font-size="4.6" fill="#000">Corbula gibba</text><text x="931.5" y="670.1" text-anchor="end" font-family="Liberation Sans" font-weight="bold" font-size="4.6" fill="#000">Synelmis klatti</text><text x="931.5" y="676.0" text-anchor="end" font-family="Liberation Sans" font-weight="bold" font-size="4.6" fill="#000">Glycera alba</text><text x="931.5" y="682.0" text-anchor="end" font-family="Liberation Sans" font-weight="bold" font-size="4.6" fill="#000">Lumbrineris scopa</text><text x="931.5" y="687.9" text-anchor="end" font-family="Liberation Sans" font-weight="bold" font-size="4.6" fill="#000">Pholoe minuta</text><text x="931.5" y="693.9" text-anchor="end" font-family="Liberation Sans" font-weight="bold" font-size="4.6" fill="#000">Diplocirrus glaucus</text><text x="931.5" y="699.8" text-anchor="end" font-family="Liberation Sans" font-weight="bold" font-size="4.6" fill="#000">Echinocardium cordatum</text><text x="931.5" y="705.7" text-anchor="end" font-family="Liberation Sans" font-weight="bold" font-size="4.6" fill="#000">Polyphysia crassa</text><text x="931.5" y="711.7" text-anchor="end" font-family="Liberation Sans" font-weight="bold" font-size="4.6" fill="#000">Rhodine loveni</text><text x="931.5" y="717.6" text-anchor="end" font-family="Liberation Sans" font-weight="bold" font-size="4.6" fill="#000">Nucula tenuis</text><text x="931.5" y="723.5" text-anchor="end" font-family="Liberation Sans" font-weight="bold" font-size="4.6" fill="#000">Prionospio sp</text><text x="931.5" y="729.5" text-anchor="end" font-family="Liberation Sans" font-weight="bold" font-size="4.6" fill="#000">Abra nitida</text><text x="931.5" y="735.4" text-anchor="end" font-family="Liberation Sans" font-weight="bold" font-size="4.6" fill="#000">Polycirrus plumosus</text><text x="931.5" y="741.4" text-anchor="end" font-family="Liberation Sans" font-weight="bold" font-size="4.6" fill="#000">Nucula sulcata</text><text x="931.5" y="747.3" text-anchor="end" font-family="Liberation Sans" font-weight="bold" font-size="4.6" fill="#000">Glycera rouxi</text><text x="931.5" y="753.2" text-anchor="end" font-family="Liberation Sans" font-weight="bold" font-size="4.6" fill="#000">Paraonis gracilis</text><text x="931.5" y="759.2" text-anchor="end" font-family="Liberation Sans" font-weight="bold" font-size="4.6" fill="#000">Philine sp</text><text x="931.5" y="765.1" text-anchor="end" font-family="Liberation Sans" font-weight="bold" font-size="4.6" fill="#000">Polychaeta indet</text><text x="931.5" y="771.1" text-anchor="end" font-family="Liberation Sans" font-weight="bold" font-size="4.6" fill="#000">Caulleriella killariensis</text><text x="931.5" y="777.0" text-anchor="end" font-family="Liberation Sans" font-weight="bold" font-size="4.6" fill="#000">Ceratocephale loveni</text><text x="931.5" y="783.0" text-anchor="end" font-family="Liberation Sans" font-weight="bold" font-size="4.6" fill="#000">Cumacea</text><text x="931.5" y="788.9" text-anchor="end" font-family="Liberation Sans" font-weight="bold" font-size="4.6" fill="#000">Prionospio malmgreni</text><text x="931.5" y="794.8" text-anchor="end" font-family="Liberation Sans" font-weight="bold" font-size="4.6" fill="#000">Nemertina indet</text><text x="931.5" y="800.8" text-anchor="end" font-family="Liberation Sans" font-weight="bold" font-size="4.6" fill="#000">Myriochele oculata</text><text x="931.5" y="806.7" text-anchor="end" font-family="Liberation Sans" font-weight="bold" font-size="4.6" fill="#000">Chaetozone setosa</text><text x="931.5" y="812.6" text-anchor="end" font-family="Liberation Sans" font-weight="bold" font-size="4.6" fill="#000">Melinna cristata</text><text x="931.5" y="818.6" text-anchor="end" font-family="Liberation Sans" font-weight="bold" font-size="4.6" fill="#000">Cossura longocirrata</text><text x="931.5" y="824.5" text-anchor="end" font-family="Liberation Sans" font-weight="bold" font-size="4.6" fill="#000">Heteromastus filiformis</text><text x="931.5" y="830.5" text-anchor="end" font-family="Liberation Sans" font-weight="bold" font-size="4.6" fill="#000">Proclea graffi</text><text x="931.5" y="836.4" text-anchor="end" font-family="Liberation Sans" font-weight="bold" font-size="4.6" fill="#000">Spiophanes kroyeri</text><text x="931.5" y="842.4" text-anchor="end" font-family="Liberation Sans" font-weight="bold" font-size="4.6" fill="#000">Nucula nitida</text><text x="931.5" y="848.3" text-anchor="end" font-family="Liberation Sans" font-weight="bold" font-size="4.6" fill="#000">Paraonis lyra</text><text x="931.5" y="854.2" text-anchor="end" font-family="Liberation Sans" font-weight="bold" font-size="4.6" fill="#000">Tharyx marioni</text><text x="931.5" y="860.2" text-anchor="end" font-family="Liberation Sans" font-weight="bold" font-size="4.6" fill="#000">Paramphinome jeffreysii</text><text x="931.5" y="866.1" text-anchor="end" font-family="Liberation Sans" font-weight="bold" font-size="4.6" fill="#000">Phylo norvegica</text><text x="931.5" y="872.0" text-anchor="end" font-family="Liberation Sans" font-weight="bold" font-size="4.6" fill="#000">Leda pernula</text><text x="931.5" y="878.0" text-anchor="end" font-family="Liberation Sans" font-weight="bold" font-size="4.6" fill="#000">Anaitides sp</text><text x="931.5" y="883.9" text-anchor="end" font-family="Liberation Sans" font-weight="bold" font-size="4.6" fill="#000">Harmothoe sarsi</text><path d="M875.0 591.1H862.0V597.0H875.0M875.0 614.8H869.7V620.8H875.0M875.0 608.9H866.3V617.8H869.7M875.0 603.0H862.1V613.3H866.3M862.1 608.1H859.1V626.7H875.0M862.0 594.0H854.5V617.4H859.1M875.0 632.7H858.7V638.6H875.0M875.0 650.5H868.8V656.4H875.0M868.8 653.4H862.1V662.4H875.0M875.0 644.5H858.4V657.9H862.1M858.7 635.6H852.0V651.2H858.4M852.0 643.4H849.5V668.3H875.0M854.5 605.7H843.6V655.9H849.5M875.0 674.2H843.6V680.2H875.0M875.0 686.1H857.4V692.1H875.0M857.4 689.1H845.3V698.0H875.0M875.0 703.9H856.2V709.9H875.0M875.0 715.8H857.0V721.8H875.0M856.2 706.9H853.5V718.8H857.0M875.0 733.6H862.1V739.6H875.0M862.1 736.6H855.8V745.5H875.0M875.0 727.7H854.0V741.1H855.8M875.0 751.5H853.0V757.4H875.0M854.0 734.4H852.3V754.4H853.0M853.5 712.8H850.4V744.4H852.3M845.3 693.5H845.0V728.6H850.4M843.6 677.2H841.0V711.1H845.0M875.0 763.3H850.5V769.3H875.0M841.0 694.1H834.3V766.3H850.5M843.6 630.8H832.0V730.2H834.3M875.0 793.0H857.6V799.0H875.0M875.0 787.1H854.0V796.0H857.6M875.0 810.9H863.9V816.8H875.0M875.0 804.9H861.2V813.8H863.9M854.0 791.5H849.6V809.4H861.2M849.6 800.5H846.0V822.7H875.0M846.0 811.6H845.1V828.7H875.0M875.0 834.6H857.6V840.6H875.0M875.0 846.5H855.0V852.4H875.0M857.6 837.6H852.0V849.5H855.0M852.0 843.5H851.4V858.4H875.0M845.1 820.1H844.2V850.9H851.4M875.0 781.2H841.9V835.5H844.2M875.0 775.2H835.8V808.3H841.9M835.8 791.8H833.5V864.3H875.0M875.0 870.2H846.9V876.2H875.0M846.9 873.2H840.0V882.1H875.0M833.5 828.0H830.5V877.7H840.0M832.0 680.5H829.5V852.9H830.5" stroke="#111" stroke-width="1.05" fill="none"/><rect x="1384.5" y="558.5" width="26" height="96" fill="#fff" stroke="#000"/><text x="1386.5" y="570.3" font-family="Liberation Sans" font-size="12" fill="#1a1aff">Site</text><path d="M1390.7 576.6L1395.1000000000001 583.6H1386.3Z" fill="#00ff00"/><text x="1398.5" y="584.6" font-family="Liberation Sans" font-size="11" fill="#000">A</text><path d="M1390.7 597.78L1395.1000000000001 590.78H1386.3Z" fill="#0000ff"/><text x="1398.5" y="597.8" font-family="Liberation Sans" font-size="11" fill="#000">B</text><rect x="1387.30" y="603.56" width="6.80" height="6.80" fill="#00ffff"/><text x="1398.5" y="611.0" font-family="Liberation Sans" font-size="11" fill="#000">C</text><path d="M1390.7 616.14L1394.7 620.14L1390.7 624.14L1386.7 620.14Z" fill="#ff0000"/><text x="1398.5" y="624.1" font-family="Liberation Sans" font-size="11" fill="#000">D</text><circle cx="1390.7" cy="633.32" r="3.80" fill="#ff00ff"/><text x="1398.5" y="637.3" font-family="Liberation Sans" font-size="11" fill="#000">E</text><path d="M1386.7 646.5H1394.7M1390.7 642.5V650.5" stroke="#808080" stroke-width="1.3"/><text x="1398.5" y="650.5" font-family="Liberation Sans" font-size="11" fill="#000">G</text></svg></div></div>
<svg class="a" style="left:789px;top:520px" width="16" height="16"><g transform="translate(0,-1.5)"><rect x="0.6" y="7.5" width="2.4" height="7" rx="1.1" fill="#0a0a0a"/><rect x="12" y="7.5" width="2.4" height="7" rx="1.1" fill="#0a0a0a"/><rect x="2.6" y="6" width="9.8" height="9.5" rx="2" fill="#d8d8d8"/><circle cx="5.2" cy="13.6" r="1.9" fill="#050505"/><circle cx="9.8" cy="13.6" r="1.9" fill="#050505"/><circle cx="3.2" cy="2.3" r="1.5" fill="#8a6a50"/><circle cx="11.8" cy="2.3" r="1.5" fill="#8a6a50"/><rect x="3.2" y="1" width="8.6" height="7.5" rx="2.5" fill="#eeeeee"/><rect x="3.6" y="3.4" width="3.4" height="2.8" rx="0.6" fill="#fff" stroke="#151515" stroke-width="0.9"/><rect x="8" y="3.4" width="3.4" height="2.8" rx="0.6" fill="#fff" stroke="#151515" stroke-width="0.9"/><path d="M6.4 6.6H8.6L7.5 9Z" fill="#111"/></g></svg>
<div class="wt" style="left:808px;top:520px;color:#8e8e8e;line-height:16px;font-size:11px">Shade_plot</div>
<div class="a" style="left:1318px;top:520px;width:30px;height:17px;border:1px solid #98a6ba;border-radius:3px;background:linear-gradient(#d8e3f0 0%,#cfdbe9 50%,#c4d2e3 52%,#cbd8e8 100%);box-shadow:inset 0 0 0 1px rgba(255,255,255,0.5)"></div>
<div class="a" style="left:1327px;top:528px;width:11px;height:5px;border:1px solid #3a3a3a;border-radius:2px;background:#fff"></div>
<div class="a" style="left:1350px;top:520px;width:30px;height:17px;border:1px solid #98a6ba;border-radius:3px;background:linear-gradient(#d8e3f0 0%,#cfdbe9 50%,#c4d2e3 52%,#cbd8e8 100%);box-shadow:inset 0 0 0 1px rgba(255,255,255,0.5)"></div>
<div class="a" style="left:1360px;top:524px;width:10px;height:9px;border:1px solid #3a3a3a;border-radius:2px;background:#fff"></div>
<div class="a" style="left:1362px;top:527px;width:6px;height:3px;background:#5a7090"></div>
<div class="a" style="left:1382px;top:520px;width:30px;height:17px;border:1px solid #98a6ba;border-radius:3px;background:linear-gradient(#d8e3f0 0%,#cfdbe9 50%,#c4d2e3 52%,#cbd8e8 100%);box-shadow:inset 0 0 0 1px rgba(255,255,255,0.5)"></div>
<svg class="a" style="left:1390px;top:523px" width="14" height="12"><path d="M2.5 2L11 10M11 2L2.5 10" stroke="#333" stroke-width="3.8" stroke-linecap="round"/><path d="M2.5 2L11 10M11 2L2.5 10" stroke="#fff" stroke-width="2.1" stroke-linecap="round"/></svg>
</div>
<div class="a" style="left:0;top:0;z-index:4">
<div class="a" style="left:929px;top:91px;width:561px;height:423px;border:1px solid #000;border-radius:7px 7px 0 0;background:#b9d1ea;overflow:hidden"><div class="a" style="left:0;top:0;right:0;height:28px;background:linear-gradient(#9ab4d3 0px,#a4bedb 10px,#b3cbe6 20px,#b9d1ea 27px)"></div><div class="a" style="left:0;top:0;right:0;bottom:0;border:1px solid rgba(255,255,255,0.75);border-radius:6px 6px 0 0"></div></div>
<div class="a" style="left:930px;top:512px;width:559px;height:1px;background:#30d0e8"></div>
<div class="a" style="left:1488px;top:97px;width:1px;height:415px;background:#30d0e8"></div>
<div class="a" style="left:936px;top:120px;width:546px;height:386px;background:#fff;overflow:hidden"><div class="a" style="left:-936px;top:-120px;width:1500px;height:921px"><svg class="a" style="left:0;top:0" width="1500" height="921"><text x="1209" y="132.6" text-anchor="middle" font-family="Liberation Sans" font-style="italic" font-size="13.6" fill="#1a1aff" word-spacing="2.6">Frierfjord macrofauna abundances (6 sites x 4 replicates)</text><text x="1209" y="149.4" text-anchor="middle" font-family="Liberation Sans" font-style="italic" font-size="12" fill="#1a1aff">Group average</text><rect x="1291.5" y="154.5" width="157" height="21" fill="#fff" stroke="#000"/><text x="1293" y="162.8" font-family="Liberation Sans" font-size="9" fill="#000">Transform:  Fourth root</text><text x="1293" y="172.6" font-family="Liberation Sans" font-size="9" fill="#000" textLength="154" lengthAdjust="spacingAndGlyphs">Resemblance: S17 Bray-Curtis similarity</text><rect x="1452.5" y="179.5" width="26" height="93" fill="#fff" stroke="#000"/><text x="1454.5" y="190.7" font-family="Liberation Sans" font-size="12" fill="#1a1aff">Site</text><path d="M1459 196.4L1463.4 203.4H1454.6Z" fill="#00ff00"/><text x="1466.5" y="204.4" font-family="Liberation Sans" font-size="11" fill="#000">A</text><path d="M1459 217.42000000000002L1463.4 210.42000000000002H1454.6Z" fill="#0000ff"/><text x="1466.5" y="217.4" font-family="Liberation Sans" font-size="11" fill="#000">B</text><rect x="1455.60" y="223.04" width="6.80" height="6.80" fill="#00ffff"/><text x="1466.5" y="230.4" font-family="Liberation Sans" font-size="11" fill="#000">C</text><path d="M1459 235.46L1463 239.46L1459 243.46L1455 239.46Z" fill="#ff0000"/><text x="1466.5" y="243.5" font-family="Liberation Sans" font-size="11" fill="#000">D</text><circle cx="1459" cy="252.48000000000002" r="3.80" fill="#ff00ff"/><text x="1466.5" y="256.5" font-family="Liberation Sans" font-size="11" fill="#000">E</text><path d="M1455 265.5H1463M1459 261.5V269.5" stroke="#808080" stroke-width="1.3"/><text x="1466.5" y="269.5" font-family="Liberation Sans" font-size="11" fill="#000">G</text><path d="M979.5 181.6V457.2" stroke="#3a3a3a" stroke-width="1.2" fill="none"/><path d="M975 181.6H979.5" stroke="#3a3a3a" stroke-width="1.2"/><text x="972.5" y="185.6" text-anchor="end" font-family="Liberation Sans" font-size="11" fill="#000">20</text><path d="M975 250.5H979.5" stroke="#3a3a3a" stroke-width="1.2"/><text x="972.5" y="254.5" text-anchor="end" font-family="Liberation Sans" font-size="11" fill="#000">40</text><path d="M975 319.4H979.5" stroke="#3a3a3a" stroke-width="1.2"/><text x="972.5" y="323.4" text-anchor="end" font-family="Liberation Sans" font-size="11" fill="#000">60</text><path d="M975 388.3H979.5" stroke="#3a3a3a" stroke-width="1.2"/><text x="972.5" y="392.3" text-anchor="end" font-family="Liberation Sans" font-size="11" fill="#000">80</text><path d="M975 457.2H979.5" stroke="#3a3a3a" stroke-width="1.2"/><text x="972.5" y="461.2" text-anchor="end" font-family="Liberation Sans" font-size="11" fill="#000">100</text><text transform="translate(949,319.7) rotate(-90)" text-anchor="middle" font-family="Liberation Sans" font-size="10" fill="#000">Similarity</text><path d="M997.8 457.2V381.5H1016.6V457.2M1035.4 457.2V369.8H1054.1V457.2M1007.2 381.5V361.5H1044.8V369.8M1110.5 457.2V370.0H1129.3V457.2M1091.7 457.2V366.0H1119.9V370.0M1072.9 457.2V354.0H1105.8V366.0M1026.0 361.5V292.4H1089.4V354.0M1185.6 457.2V349.1H1204.4V457.2M1166.8 457.2V338.4H1195.0V349.1M1148.0 457.2V321.7H1180.9V338.4M1279.5 457.2V368.0H1298.3V457.2M1260.7 457.2V347.8H1288.9V368.0M1241.9 457.2V331.1H1274.8V347.8M1335.8 457.2V352.6H1354.6V457.2M1317.1 457.2V318.6H1345.2V352.6M1258.4 331.1V315.4H1331.1V318.6M1411.0 457.2V353.2H1429.7V457.2M1392.2 457.2V314.5H1420.3V353.2M1373.4 457.2V300.6H1406.3V314.5M1294.8 315.4V283.0H1389.8V300.6M1223.2 457.2V262.5H1342.3V283.0M1164.5 321.7V230.4H1282.7V262.5M1057.7 292.4V197.0H1223.6V230.4" stroke="#353535" stroke-width="1.15" fill="none"/><circle cx="998.0" cy="466.7" r="3.99" fill="#ff00ff"/><text transform="translate(1001.8,487) rotate(-90)" font-family="Liberation Sans" font-size="11" fill="#000">E3</text><circle cx="1016.5" cy="466.7" r="3.99" fill="#ff00ff"/><text transform="translate(1020.6,487) rotate(-90)" font-family="Liberation Sans" font-size="11" fill="#000">E4</text><circle cx="1035.5" cy="466.7" r="3.99" fill="#ff00ff"/><text transform="translate(1039.4,487) rotate(-90)" font-family="Liberation Sans" font-size="11" fill="#000">E1</text><circle cx="1054.0" cy="466.7" r="3.99" fill="#ff00ff"/><text transform="translate(1058.1,487) rotate(-90)" font-family="Liberation Sans" font-size="11" fill="#000">E2</text><path d="M1068.8 466.7H1077.2M1073.0 462.5V470.9" stroke="#808080" stroke-width="1.3"/><text transform="translate(1076.9,487) rotate(-90)" font-family="Liberation Sans" font-size="11" fill="#000">G2</text><path d="M1087.3 466.7H1095.7M1091.5 462.5V470.9" stroke="#808080" stroke-width="1.3"/><text transform="translate(1095.7,487) rotate(-90)" font-family="Liberation Sans" font-size="11" fill="#000">G3</text><path d="M1106.3 466.7H1114.7M1110.5 462.5V470.9" stroke="#808080" stroke-width="1.3"/><text transform="translate(1114.5,487) rotate(-90)" font-family="Liberation Sans" font-size="11" fill="#000">G1</text><path d="M1125.3 466.7H1133.7M1129.5 462.5V470.9" stroke="#808080" stroke-width="1.3"/><text transform="translate(1133.3,487) rotate(-90)" font-family="Liberation Sans" font-size="11" fill="#000">G4</text><path d="M1148.0 462.5L1152.62 469.84999999999997H1143.38Z" fill="#00ff00"/><text transform="translate(1152.0,487) rotate(-90)" font-family="Liberation Sans" font-size="11" fill="#000">A2</text><path d="M1167.0 462.5L1171.62 469.84999999999997H1162.38Z" fill="#00ff00"/><text transform="translate(1170.8,487) rotate(-90)" font-family="Liberation Sans" font-size="11" fill="#000">A4</text><path d="M1185.5 462.5L1190.12 469.84999999999997H1180.88Z" fill="#00ff00"/><text transform="translate(1189.6,487) rotate(-90)" font-family="Liberation Sans" font-size="11" fill="#000">A1</text><path d="M1204.5 462.5L1209.12 469.84999999999997H1199.88Z" fill="#00ff00"/><text transform="translate(1208.4,487) rotate(-90)" font-family="Liberation Sans" font-size="11" fill="#000">A3</text><rect x="1219.43" y="463.13" width="7.14" height="7.14" fill="#00ffff"/><text transform="translate(1227.2,487) rotate(-90)" font-family="Liberation Sans" font-size="11" fill="#000">C1</text><path d="M1242.0 470.9L1246.62 463.55H1237.38Z" fill="#0000ff"/><text transform="translate(1245.9,487) rotate(-90)" font-family="Liberation Sans" font-size="11" fill="#000">B1</text><path d="M1260.5 470.9L1265.12 463.55H1255.88Z" fill="#0000ff"/><text transform="translate(1264.7,487) rotate(-90)" font-family="Liberation Sans" font-size="11" fill="#000">B3</text><rect x="1275.93" y="463.13" width="7.14" height="7.14" fill="#00ffff"/><text transform="translate(1283.5,487) rotate(-90)" font-family="Liberation Sans" font-size="11" fill="#000">C3</text><rect x="1294.93" y="463.13" width="7.14" height="7.14" fill="#00ffff"/><text transform="translate(1302.3,487) rotate(-90)" font-family="Liberation Sans" font-size="11" fill="#000">C4</text><path d="M1317.0 470.9L1321.62 463.55H1312.38Z" fill="#0000ff"/><text transform="translate(1321.1,487) rotate(-90)" font-family="Liberation Sans" font-size="11" fill="#000">B4</text><path d="M1336.0 470.9L1340.62 463.55H1331.38Z" fill="#0000ff"/><text transform="translate(1339.8,487) rotate(-90)" font-family="Liberation Sans" font-size="11" fill="#000">B2</text><rect x="1350.93" y="463.13" width="7.14" height="7.14" fill="#00ffff"/><text transform="translate(1358.6,487) rotate(-90)" font-family="Liberation Sans" font-size="11" fill="#000">C2</text><path d="M1373.5 462.5L1377.7 466.7L1373.5 470.9L1369.3 466.7Z" fill="#ff0000"/><text transform="translate(1377.4,487) rotate(-90)" font-family="Liberation Sans" font-size="11" fill="#000">D3</text><path d="M1392.0 462.5L1396.2 466.7L1392.0 470.9L1387.8 466.7Z" fill="#ff0000"/><text transform="translate(1396.2,487) rotate(-90)" font-family="Liberation Sans" font-size="11" fill="#000">D1</text><path d="M1411.0 462.5L1415.2 466.7L1411.0 470.9L1406.8 466.7Z" fill="#ff0000"/><text transform="translate(1415.0,487) rotate(-90)" font-family="Liberation Sans" font-size="11" fill="#000">D2</text><path d="M1429.5 462.5L1433.7 466.7L1429.5 470.9L1425.3 466.7Z" fill="#ff0000"/><text transform="translate(1433.7,487) rotate(-90)" font-family="Liberation Sans" font-size="11" fill="#000">D4</text><text x="1212" y="500" text-anchor="middle" font-family="Liberation Sans" font-size="11" fill="#000">Samples</text></svg></div></div>
<svg class="a" style="left:938px;top:101px" width="16" height="16"><g transform="translate(0,-1.5)"><rect x="0.6" y="7.5" width="2.4" height="7" rx="1.1" fill="#0a0a0a"/><rect x="12" y="7.5" width="2.4" height="7" rx="1.1" fill="#0a0a0a"/><rect x="2.6" y="6" width="9.8" height="9.5" rx="2" fill="#d8d8d8"/><circle cx="5.2" cy="13.6" r="1.9" fill="#050505"/><circle cx="9.8" cy="13.6" r="1.9" fill="#050505"/><circle cx="3.2" cy="2.3" r="1.5" fill="#8a6a50"/><circle cx="11.8" cy="2.3" r="1.5" fill="#8a6a50"/><rect x="3.2" y="1" width="8.6" height="7.5" rx="2.5" fill="#eeeeee"/><rect x="3.6" y="3.4" width="3.4" height="2.8" rx="0.6" fill="#fff" stroke="#151515" stroke-width="0.9"/><rect x="8" y="3.4" width="3.4" height="2.8" rx="0.6" fill="#fff" stroke="#151515" stroke-width="0.9"/><path d="M6.4 6.6H8.6L7.5 9Z" fill="#111"/></g></svg>
<div class="wt" style="left:957px;top:101px;color:#000;line-height:16px;font-size:11px">Cluster_dendrogram</div>
<div class="a" style="left:1386px;top:100px;width:30px;height:17px;border:1px solid #5a6a84;border-radius:3px;background:linear-gradient(#dce7f4 0%,#c9d9ed 45%,#aac0da 52%,#bccfe6 100%);box-shadow:inset 0 0 0 1px rgba(255,255,255,0.5)"></div>
<div class="a" style="left:1395px;top:108px;width:11px;height:5px;border:1px solid #3a3a3a;border-radius:2px;background:#fff"></div>
<div class="a" style="left:1418px;top:100px;width:30px;height:17px;border:1px solid #5a6a84;border-radius:3px;background:linear-gradient(#dce7f4 0%,#c9d9ed 45%,#aac0da 52%,#bccfe6 100%);box-shadow:inset 0 0 0 1px rgba(255,255,255,0.5)"></div>
<div class="a" style="left:1428px;top:104px;width:10px;height:9px;border:1px solid #3a3a3a;border-radius:2px;background:#fff"></div>
<div class="a" style="left:1430px;top:107px;width:6px;height:3px;background:#5a7090"></div>
<div class="a" style="left:1450px;top:100px;width:30px;height:17px;border:1px solid #4a1010;border-radius:3px;background:linear-gradient(#e8a898 0%,#dc7c68 45%,#c43c1c 52%,#d26a50 100%);box-shadow:inset 0 0 0 1px rgba(255,255,255,0.5)"></div>
<svg class="a" style="left:1458px;top:103px" width="14" height="12"><path d="M2.5 2L11 10M11 2L2.5 10" stroke="#333" stroke-width="3.8" stroke-linecap="round"/><path d="M2.5 2L11 10M11 2L2.5 10" stroke="#fff" stroke-width="2.1" stroke-linecap="round"/></svg>
</div>
<div class="a" style="left:0;top:900px;width:1500px;height:21px;background:#f0f0f0"></div>
<div class="a" style="left:1495px;top:908px;width:2px;height:2px;background:#8a8a8a"></div><div class="a" style="left:1491px;top:912px;width:2px;height:2px;background:#8a8a8a"></div><div class="a" style="left:1495px;top:912px;width:2px;height:2px;background:#8a8a8a"></div><div class="a" style="left:1487px;top:916px;width:2px;height:2px;background:#8a8a8a"></div><div class="a" style="left:1491px;top:916px;width:2px;height:2px;background:#8a8a8a"></div><div class="a" style="left:1495px;top:916px;width:2px;height:2px;background:#8a8a8a"></div>
</body></html>
